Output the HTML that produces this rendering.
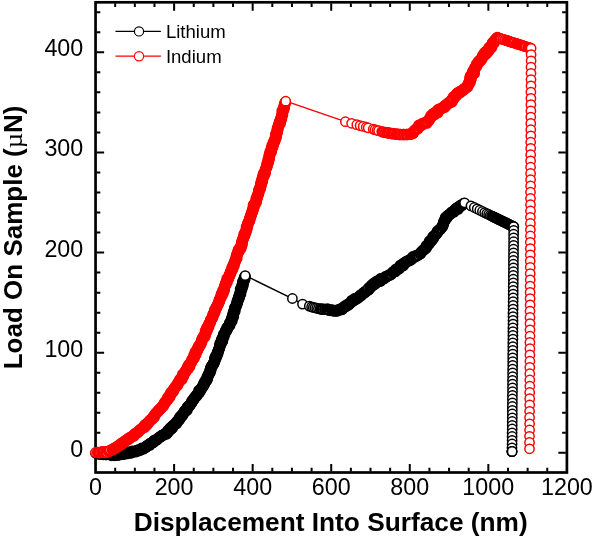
<!DOCTYPE html>
<html lang="en"><head><meta charset="utf-8"><title>Load vs displacement</title><style>html,body{margin:0;padding:0;background:#fff}svg{display:block;will-change:transform}</style></head>
<body>
<svg width="593" height="538" viewBox="0 0 593 538" role="img" aria-label="Load on sample versus displacement into surface for lithium and indium">
<rect width="593" height="538" fill="#fff"/>
<rect x="95.55" y="2.30" width="471.35" height="470.20" fill="none" stroke="#000" stroke-width="2.7"/>
<g stroke="#000" stroke-width="2.0" fill="none"><path d="M115.19 471.45v-3.70M115.19 3.35v3.70"/><path d="M134.83 471.45v-3.70M134.83 3.35v3.70"/><path d="M154.47 471.45v-3.70M154.47 3.35v3.70"/><path d="M174.11 471.45v-7.50M174.11 3.35v7.50"/><path d="M193.75 471.45v-3.70M193.75 3.35v3.70"/><path d="M213.39 471.45v-3.70M213.39 3.35v3.70"/><path d="M233.03 471.45v-3.70M233.03 3.35v3.70"/><path d="M252.67 471.45v-7.50M252.67 3.35v7.50"/><path d="M272.31 471.45v-3.70M272.31 3.35v3.70"/><path d="M291.95 471.45v-3.70M291.95 3.35v3.70"/><path d="M311.59 471.45v-3.70M311.59 3.35v3.70"/><path d="M331.22 471.45v-7.50M331.22 3.35v7.50"/><path d="M350.86 471.45v-3.70M350.86 3.35v3.70"/><path d="M370.50 471.45v-3.70M370.50 3.35v3.70"/><path d="M390.14 471.45v-3.70M390.14 3.35v3.70"/><path d="M409.78 471.45v-7.50M409.78 3.35v7.50"/><path d="M429.42 471.45v-3.70M429.42 3.35v3.70"/><path d="M449.06 471.45v-3.70M449.06 3.35v3.70"/><path d="M468.70 471.45v-3.70M468.70 3.35v3.70"/><path d="M488.34 471.45v-7.50M488.34 3.35v7.50"/><path d="M507.98 471.45v-3.70M507.98 3.35v3.70"/><path d="M527.62 471.45v-3.70M527.62 3.35v3.70"/><path d="M547.26 471.45v-3.70M547.26 3.35v3.70"/><path d="M96.60 452.85h7.50M565.85 452.85h-7.50"/><path d="M96.60 432.82h3.70M565.85 432.82h-3.70"/><path d="M96.60 412.80h3.70M565.85 412.80h-3.70"/><path d="M96.60 392.77h3.70M565.85 392.77h-3.70"/><path d="M96.60 372.74h3.70M565.85 372.74h-3.70"/><path d="M96.60 352.71h7.50M565.85 352.71h-7.50"/><path d="M96.60 332.69h3.70M565.85 332.69h-3.70"/><path d="M96.60 312.66h3.70M565.85 312.66h-3.70"/><path d="M96.60 292.63h3.70M565.85 292.63h-3.70"/><path d="M96.60 272.60h3.70M565.85 272.60h-3.70"/><path d="M96.60 252.57h7.50M565.85 252.57h-7.50"/><path d="M96.60 232.55h3.70M565.85 232.55h-3.70"/><path d="M96.60 212.52h3.70M565.85 212.52h-3.70"/><path d="M96.60 192.49h3.70M565.85 192.49h-3.70"/><path d="M96.60 172.46h3.70M565.85 172.46h-3.70"/><path d="M96.60 152.44h7.50M565.85 152.44h-7.50"/><path d="M96.60 132.41h3.70M565.85 132.41h-3.70"/><path d="M96.60 112.38h3.70M565.85 112.38h-3.70"/><path d="M96.60 92.35h3.70M565.85 92.35h-3.70"/><path d="M96.60 72.33h3.70M565.85 72.33h-3.70"/><path d="M96.60 52.30h7.50M565.85 52.30h-7.50"/><path d="M96.60 32.27h3.70M565.85 32.27h-3.70"/><path d="M96.60 12.24h3.70M565.85 12.24h-3.70"/></g>
<g fill="#fff" stroke="#000"><polyline fill="none" stroke-width="1.4" points="95.5,453.3 97.6,453.6 98.4,453.8 99.3,453.9 100.3,453.9 101.2,454.2 102.3,453.0 103.3,454.4 104.1,453.9 105.8,454.5 105.9,454.5 106.8,454.8 108.9,454.3 109.7,454.8 111.6,455.5 112.5,455.3 113.5,455.1 114.5,455.5 115.4,454.9 116.3,454.6 117.3,455.1 118.3,455.0 119.2,454.6 120.1,454.2 121.1,454.5 121.9,453.2 123.0,454.3 123.9,454.1 124.7,453.1 125.8,453.6 126.6,453.0 127.7,453.5 128.4,452.2 129.4,452.5 130.5,452.9 131.5,452.8 132.1,451.3 133.2,451.7 134.2,451.8 135.0,451.2 136.1,451.8 136.7,450.5 137.8,450.8 138.4,450.0 139.7,450.5 140.3,449.7 141.2,449.1 141.8,448.3 143.3,449.0 143.9,448.2 144.8,447.8 145.7,447.4 146.4,446.7 147.0,445.9 147.8,445.3 148.6,444.9 149.8,445.1 150.0,443.6 151.0,443.4 151.8,442.9 152.7,442.6 153.6,442.1 153.9,440.9 154.5,440.2 155.7,440.2 156.7,440.0 157.4,439.3 158.0,438.5 158.7,437.8 159.6,437.4 160.3,436.7 161.3,436.5 161.7,435.5 162.8,435.3 163.5,434.7 164.5,434.4 165.2,433.7 166.5,433.9 167.1,433.0 167.8,432.5 167.7,430.8 168.8,430.7 169.4,430.0 170.4,429.6 170.2,428.1 171.8,428.4 172.4,427.7 172.3,426.3 173.0,425.7 173.7,425.0 174.5,424.5 175.3,424.0 176.4,423.6 176.3,422.3 177.2,421.8 177.6,420.9 178.7,420.5 179.0,419.5 179.8,418.9 179.6,417.6 180.5,417.1 180.9,416.1 182.2,415.9 182.5,415.0 182.8,414.0 183.3,413.2 184.2,412.7 184.4,411.6 184.9,410.8 185.9,410.4 187.1,410.1 186.8,408.7 187.3,407.9 187.7,407.0 188.2,406.2 189.4,405.9 190.0,405.2 190.3,404.2 191.0,403.5 191.5,402.7 192.0,401.9 192.1,400.8 193.0,400.2 193.7,399.6 194.0,398.6 194.6,397.9 195.1,397.1 195.8,396.4 196.7,395.9 196.8,394.8 197.5,394.1 198.3,393.5 198.8,392.7 199.7,392.1 198.9,390.5 200.4,390.4 200.5,389.3 201.2,388.6 201.9,387.9 202.5,387.2 203.0,386.3 203.1,385.3 204.1,384.8 203.9,383.6 204.4,382.8 205.2,382.1 205.1,381.0 206.5,380.7 206.6,379.6 207.4,379.0 207.1,377.7 207.3,376.8 208.0,376.1 208.6,375.3 208.5,374.2 209.2,373.5 209.4,372.6 210.3,371.9 209.9,370.7 210.9,370.1 210.6,368.9 210.8,368.0 211.3,367.2 211.5,366.2 212.4,365.6 213.1,364.8 213.2,363.8 213.8,363.1 214.5,362.3 214.4,361.3 214.8,360.4 215.0,359.4 214.8,358.4 216.1,357.8 215.5,356.6 216.7,356.0 216.8,355.1 217.6,354.3 217.4,353.3 217.5,352.3 218.3,351.6 218.3,350.5 218.7,349.7 219.2,348.8 219.4,347.9 219.7,347.0 219.8,346.0 220.3,345.2 219.9,344.1 221.0,343.4 220.9,342.4 222.1,341.8 222.5,341.0 221.6,339.6 222.7,339.0 222.9,338.1 222.9,337.1 223.9,336.4 223.8,335.4 223.7,334.3 224.7,333.7 225.1,332.8 225.6,332.0 225.5,330.9 226.6,330.4 227.1,329.5 226.8,328.4 227.5,327.6 228.1,326.9 228.4,326.0 229.7,325.5 229.6,324.4 229.6,323.4 230.1,322.6 230.7,321.8 231.9,321.3 231.3,320.0 231.7,319.1 232.2,318.3 232.2,317.3 233.4,316.7 232.6,315.4 233.4,314.7 233.4,313.7 233.9,312.9 233.5,311.7 234.9,311.2 234.5,310.1 234.8,309.2 234.8,308.1 235.1,307.3 235.9,306.5 236.3,305.7 236.5,304.7 237.0,303.9 237.1,302.9 237.1,301.9 237.8,301.1 238.0,300.2 238.0,299.2 238.7,298.4 239.2,297.6 239.1,296.6 239.2,295.6 239.9,294.8 240.6,294.1 240.1,292.9 240.4,292.0 240.7,291.1 241.5,290.3 240.5,289.1 241.6,288.4 242.2,287.6 241.7,286.4 242.9,285.8 242.8,284.8 242.6,283.7 243.2,282.9 242.8,281.8 243.4,281.0 244.5,280.3 243.9,279.2 244.8,278.4 244.7,277.4 245.0,276.5 245.2,275.6 292.4,298.5 302.5,304.1 309.3,306.1 311.6,306.9 313.3,307.4 315.0,307.8 316.7,308.2 318.4,308.6 320.1,308.9 321.2,309.1 322.2,309.2 323.2,309.2 324.8,309.2 325.2,309.3 326.8,309.4 327.2,309.3 328.2,309.3 329.1,310.2 330.1,310.8 331.6,310.2 332.1,310.1 333.1,310.7 334.1,310.9 335.2,310.4 336.2,310.9 337.2,311.0 338.1,310.2 339.0,309.6 340.1,309.8 341.1,309.4 342.2,309.4 342.6,307.9 343.6,307.6 344.4,307.0 344.9,306.0 346.2,306.2 347.0,305.7 347.4,304.5 348.8,304.7 349.4,303.8 350.1,303.1 350.8,302.3 351.8,302.0 352.0,300.4 353.4,300.7 354.3,300.2 354.5,298.7 356.0,299.1 356.7,298.3 357.8,298.2 358.2,297.2 359.1,296.8 360.0,296.4 360.3,295.3 361.6,295.1 362.1,294.2 363.1,293.7 363.5,292.7 364.8,292.6 365.4,291.8 365.9,291.0 366.9,290.7 367.8,290.3 368.7,289.8 368.4,287.7 370.0,287.9 370.5,287.2 371.1,286.3 371.6,285.2 373.0,285.5 373.2,283.8 374.5,284.0 375.5,283.8 375.6,282.0 376.8,282.0 377.3,281.1 378.6,281.2 379.8,281.2 380.8,280.9 380.6,278.8 381.8,278.7 383.0,278.7 384.1,278.6 384.7,277.7 385.3,276.7 386.5,276.8 387.3,276.2 388.2,275.7 389.0,275.0 390.2,275.0 391.0,274.5 391.7,273.7 392.7,272.5 392.9,272.0 394.0,271.7 395.2,271.6 395.5,270.4 395.9,269.3 397.5,269.7 398.0,268.7 399.2,268.6 399.4,267.2 400.0,266.3 400.5,265.3 402.1,265.8 403.2,265.7 403.0,263.7 403.9,263.2 405.1,263.1 405.5,262.0 406.5,261.7 407.4,261.1 408.4,260.8 409.5,260.7 410.1,259.7 411.2,259.6 411.7,258.5 412.7,258.3 412.9,256.8 413.9,256.6 415.5,256.8 415.8,255.8 417.0,255.7 417.8,255.1 418.9,254.9 420.1,253.8 420.5,253.6 420.9,252.5 421.6,251.7 422.3,251.0 423.2,250.5 423.7,249.6 424.6,249.1 425.4,248.5 426.2,247.9 426.5,246.9 426.5,245.6 427.7,245.3 428.3,244.5 429.2,243.8 429.5,242.8 429.5,241.6 430.0,240.7 431.7,240.6 431.7,239.5 432.8,239.0 433.5,238.3 433.1,236.6 434.2,236.2 434.9,235.5 435.6,234.8 436.3,234.0 436.8,233.1 437.5,232.4 437.5,231.1 438.7,230.8 439.7,229.7 440.1,229.5 440.5,228.6 441.6,228.0 442.4,226.6 442.5,226.2 443.0,225.2 443.3,224.2 443.4,223.2 443.9,222.3 444.1,221.3 444.9,220.5 445.1,219.6 445.8,218.9 445.5,217.6 447.0,217.6 447.1,216.3 447.8,215.6 448.8,215.1 449.5,214.4 450.5,214.0 451.0,213.1 451.7,212.3 452.5,211.8 454.0,212.0 454.4,210.9 454.8,209.8 456.0,209.7 456.2,208.4 458.1,209.1 457.8,207.2 459.3,207.3 460.1,206.8 460.3,205.5 461.5,205.4 462.4,204.9 463.1,204.1 463.8,203.5 464.6,202.8 471.0,205.9 474.3,207.5 477.2,208.9 479.8,210.2 482.4,211.5 484.7,212.6 486.8,213.6 488.6,214.5 490.2,215.3 491.6,215.9 492.6,216.4 493.5,216.9 494.4,217.3 495.4,217.8 496.3,218.2 497.2,218.7 498.1,219.1 499.0,219.6 499.9,220.0 500.9,220.4 501.8,220.9 502.7,221.3 503.6,221.8 504.5,222.2 505.4,222.7 506.4,223.1 507.3,223.6 508.2,224.0 509.1,224.5 510.0,224.9 510.9,225.4 511.9,225.8 512.8,226.3 513.7,226.7 513.7,226.7 513.7,230.4 513.6,234.2 513.6,237.9 513.6,241.7 513.6,245.4 513.5,249.2 513.5,252.9 513.5,256.7 513.4,260.4 513.4,264.2 513.4,267.9 513.4,271.7 513.3,275.4 513.3,279.2 513.3,282.9 513.2,286.6 513.2,290.4 513.2,294.1 513.2,297.9 513.1,301.6 513.1,305.4 513.1,309.1 513.0,312.9 513.0,316.6 513.0,320.4 513.0,324.1 512.9,327.9 512.9,331.6 512.9,335.4 512.9,339.1 512.8,342.8 512.8,346.6 512.8,350.3 512.7,354.1 512.7,357.8 512.7,361.6 512.7,365.3 512.6,369.1 512.6,372.8 512.6,376.6 512.5,380.3 512.5,384.1 512.5,387.8 512.5,391.6 512.4,395.3 512.4,399.0 512.4,402.8 512.3,406.5 512.3,410.3 512.3,414.0 512.3,417.8 512.2,421.5 512.2,425.3 512.2,429.0 512.1,432.8 512.1,436.5 512.1,440.3 512.1,444.0 512.0,447.8 512.0,451.5 512.0,451.6 511.9,451.7 512.1,451.4"/><g stroke-width="1.5"><circle cx="95.5" cy="453.3" r="4.65"/><circle cx="97.6" cy="453.6" r="5.00" fill="#000"/><circle cx="98.4" cy="453.8" r="5.00" fill="#000"/><circle cx="99.3" cy="453.9" r="5.00" fill="#000"/><circle cx="100.3" cy="453.9" r="5.00" fill="#000"/><circle cx="101.2" cy="454.2" r="5.00" fill="#000"/><circle cx="102.3" cy="453.0" r="4.65"/><circle cx="103.3" cy="454.4" r="5.00" fill="#000"/><circle cx="104.1" cy="453.9" r="4.65"/><circle cx="105.8" cy="454.5" r="5.00" fill="#000"/><circle cx="105.9" cy="454.5" r="5.00" fill="#000"/><circle cx="106.8" cy="454.8" r="4.65"/><circle cx="108.9" cy="454.3" r="5.00" fill="#000"/><circle cx="109.7" cy="454.8" r="4.65"/><circle cx="111.6" cy="455.5" r="5.00" fill="#000"/><circle cx="112.5" cy="455.3" r="5.00" fill="#000"/><circle cx="113.5" cy="455.1" r="5.00" fill="#000"/><circle cx="114.5" cy="455.5" r="5.00" fill="#000"/><circle cx="115.4" cy="454.9" r="5.00" fill="#000"/><circle cx="116.3" cy="454.6" r="5.00" fill="#000"/><circle cx="117.3" cy="455.1" r="5.00" fill="#000"/><circle cx="118.3" cy="455.0" r="5.00" fill="#000"/><circle cx="119.2" cy="454.6" r="5.00" fill="#000"/><circle cx="120.1" cy="454.2" r="5.00" fill="#000"/><circle cx="121.1" cy="454.5" r="5.00" fill="#000"/><circle cx="121.9" cy="453.2" r="5.00" fill="#000"/><circle cx="123.0" cy="454.3" r="5.00" fill="#000"/><circle cx="123.9" cy="454.1" r="5.00" fill="#000"/><circle cx="124.7" cy="453.1" r="5.00" fill="#000"/><circle cx="125.8" cy="453.6" r="5.00" fill="#000"/><circle cx="126.6" cy="453.0" r="5.00" fill="#000"/><circle cx="127.7" cy="453.5" r="5.00" fill="#000"/><circle cx="128.4" cy="452.2" r="5.00" fill="#000"/><circle cx="129.4" cy="452.5" r="5.00" fill="#000"/><circle cx="130.5" cy="452.9" r="5.00" fill="#000"/><circle cx="131.5" cy="452.8" r="5.00" fill="#000"/><circle cx="132.1" cy="451.3" r="5.00" fill="#000"/><circle cx="133.2" cy="451.7" r="5.00" fill="#000"/><circle cx="134.2" cy="451.8" r="5.00" fill="#000"/><circle cx="135.0" cy="451.2" r="5.00" fill="#000"/><circle cx="136.1" cy="451.8" r="5.00" fill="#000"/><circle cx="136.7" cy="450.5" r="5.00" fill="#000"/><circle cx="137.8" cy="450.8" r="5.00" fill="#000"/><circle cx="138.4" cy="450.0" r="5.00" fill="#000"/><circle cx="139.7" cy="450.5" r="5.00" fill="#000"/><circle cx="140.3" cy="449.7" r="5.00" fill="#000"/><circle cx="141.2" cy="449.1" r="5.00" fill="#000"/><circle cx="141.8" cy="448.3" r="5.00" fill="#000"/><circle cx="143.3" cy="449.0" r="5.00" fill="#000"/><circle cx="143.9" cy="448.2" r="5.00" fill="#000"/><circle cx="144.8" cy="447.8" r="5.00" fill="#000"/><circle cx="145.7" cy="447.4" r="5.00" fill="#000"/><circle cx="146.4" cy="446.7" r="5.00" fill="#000"/><circle cx="147.0" cy="445.9" r="5.00" fill="#000"/><circle cx="147.8" cy="445.3" r="5.00" fill="#000"/><circle cx="148.6" cy="444.9" r="5.00" fill="#000"/><circle cx="149.8" cy="445.1" r="5.00" fill="#000"/><circle cx="150.0" cy="443.6" r="5.00" fill="#000"/><circle cx="151.0" cy="443.4" r="5.00" fill="#000"/><circle cx="151.8" cy="442.9" r="5.00" fill="#000"/><circle cx="152.7" cy="442.6" r="5.00" fill="#000"/><circle cx="153.6" cy="442.1" r="5.00" fill="#000"/><circle cx="153.9" cy="440.9" r="5.00" fill="#000"/><circle cx="154.5" cy="440.2" r="5.00" fill="#000"/><circle cx="155.7" cy="440.2" r="5.00" fill="#000"/><circle cx="156.7" cy="440.0" r="5.00" fill="#000"/><circle cx="157.4" cy="439.3" r="5.00" fill="#000"/><circle cx="158.0" cy="438.5" r="5.00" fill="#000"/><circle cx="158.7" cy="437.8" r="5.00" fill="#000"/><circle cx="159.6" cy="437.4" r="5.00" fill="#000"/><circle cx="160.3" cy="436.7" r="5.00" fill="#000"/><circle cx="161.3" cy="436.5" r="5.00" fill="#000"/><circle cx="161.7" cy="435.5" r="5.00" fill="#000"/><circle cx="162.8" cy="435.3" r="5.00" fill="#000"/><circle cx="163.5" cy="434.7" r="5.00" fill="#000"/><circle cx="164.5" cy="434.4" r="5.00" fill="#000"/><circle cx="165.2" cy="433.7" r="5.00" fill="#000"/><circle cx="166.5" cy="433.9" r="5.00" fill="#000"/><circle cx="167.1" cy="433.0" r="5.00" fill="#000"/><circle cx="167.8" cy="432.5" r="5.00" fill="#000"/><circle cx="167.7" cy="430.8" r="5.00" fill="#000"/><circle cx="168.8" cy="430.7" r="5.00" fill="#000"/><circle cx="169.4" cy="430.0" r="5.00" fill="#000"/><circle cx="170.4" cy="429.6" r="5.00" fill="#000"/><circle cx="170.2" cy="428.1" r="5.00" fill="#000"/><circle cx="171.8" cy="428.4" r="5.00" fill="#000"/><circle cx="172.4" cy="427.7" r="5.00" fill="#000"/><circle cx="172.3" cy="426.3" r="5.00" fill="#000"/><circle cx="173.0" cy="425.7" r="5.00" fill="#000"/><circle cx="173.7" cy="425.0" r="5.00" fill="#000"/><circle cx="174.5" cy="424.5" r="5.00" fill="#000"/><circle cx="175.3" cy="424.0" r="5.00" fill="#000"/><circle cx="176.4" cy="423.6" r="5.00" fill="#000"/><circle cx="176.3" cy="422.3" r="5.00" fill="#000"/><circle cx="177.2" cy="421.8" r="5.00" fill="#000"/><circle cx="177.6" cy="420.9" r="5.00" fill="#000"/><circle cx="178.7" cy="420.5" r="5.00" fill="#000"/><circle cx="179.0" cy="419.5" r="5.00" fill="#000"/><circle cx="179.8" cy="418.9" r="5.00" fill="#000"/><circle cx="179.6" cy="417.6" r="5.00" fill="#000"/><circle cx="180.5" cy="417.1" r="5.00" fill="#000"/><circle cx="180.9" cy="416.1" r="5.00" fill="#000"/><circle cx="182.2" cy="415.9" r="5.00" fill="#000"/><circle cx="182.5" cy="415.0" r="5.00" fill="#000"/><circle cx="182.8" cy="414.0" r="5.00" fill="#000"/><circle cx="183.3" cy="413.2" r="5.00" fill="#000"/><circle cx="184.2" cy="412.7" r="5.00" fill="#000"/><circle cx="184.4" cy="411.6" r="5.00" fill="#000"/><circle cx="184.9" cy="410.8" r="5.00" fill="#000"/><circle cx="185.9" cy="410.4" r="5.00" fill="#000"/><circle cx="187.1" cy="410.1" r="5.00" fill="#000"/><circle cx="186.8" cy="408.7" r="5.00" fill="#000"/><circle cx="187.3" cy="407.9" r="5.00" fill="#000"/><circle cx="187.7" cy="407.0" r="5.00" fill="#000"/><circle cx="188.2" cy="406.2" r="5.00" fill="#000"/><circle cx="189.4" cy="405.9" r="5.00" fill="#000"/><circle cx="190.0" cy="405.2" r="5.00" fill="#000"/><circle cx="190.3" cy="404.2" r="5.00" fill="#000"/><circle cx="191.0" cy="403.5" r="5.00" fill="#000"/><circle cx="191.5" cy="402.7" r="5.00" fill="#000"/><circle cx="192.0" cy="401.9" r="5.00" fill="#000"/><circle cx="192.1" cy="400.8" r="5.00" fill="#000"/><circle cx="193.0" cy="400.2" r="5.00" fill="#000"/><circle cx="193.7" cy="399.6" r="5.00" fill="#000"/><circle cx="194.0" cy="398.6" r="5.00" fill="#000"/><circle cx="194.6" cy="397.9" r="5.00" fill="#000"/><circle cx="195.1" cy="397.1" r="5.00" fill="#000"/><circle cx="195.8" cy="396.4" r="5.00" fill="#000"/><circle cx="196.7" cy="395.9" r="5.00" fill="#000"/><circle cx="196.8" cy="394.8" r="5.00" fill="#000"/><circle cx="197.5" cy="394.1" r="5.00" fill="#000"/><circle cx="198.3" cy="393.5" r="5.00" fill="#000"/><circle cx="198.8" cy="392.7" r="5.00" fill="#000"/><circle cx="199.7" cy="392.1" r="5.00" fill="#000"/><circle cx="198.9" cy="390.5" r="5.00" fill="#000"/><circle cx="200.4" cy="390.4" r="5.00" fill="#000"/><circle cx="200.5" cy="389.3" r="5.00" fill="#000"/><circle cx="201.2" cy="388.6" r="5.00" fill="#000"/><circle cx="201.9" cy="387.9" r="5.00" fill="#000"/><circle cx="202.5" cy="387.2" r="5.00" fill="#000"/><circle cx="203.0" cy="386.3" r="5.00" fill="#000"/><circle cx="203.1" cy="385.3" r="5.00" fill="#000"/><circle cx="204.1" cy="384.8" r="5.00" fill="#000"/><circle cx="203.9" cy="383.6" r="5.00" fill="#000"/><circle cx="204.4" cy="382.8" r="5.00" fill="#000"/><circle cx="205.2" cy="382.1" r="5.00" fill="#000"/><circle cx="205.1" cy="381.0" r="5.00" fill="#000"/><circle cx="206.5" cy="380.7" r="5.00" fill="#000"/><circle cx="206.6" cy="379.6" r="5.00" fill="#000"/><circle cx="207.4" cy="379.0" r="5.00" fill="#000"/><circle cx="207.1" cy="377.7" r="5.00" fill="#000"/><circle cx="207.3" cy="376.8" r="5.00" fill="#000"/><circle cx="208.0" cy="376.1" r="5.00" fill="#000"/><circle cx="208.6" cy="375.3" r="5.00" fill="#000"/><circle cx="208.5" cy="374.2" r="5.00" fill="#000"/><circle cx="209.2" cy="373.5" r="5.00" fill="#000"/><circle cx="209.4" cy="372.6" r="5.00" fill="#000"/><circle cx="210.3" cy="371.9" r="5.00" fill="#000"/><circle cx="209.9" cy="370.7" r="5.00" fill="#000"/><circle cx="210.9" cy="370.1" r="5.00" fill="#000"/><circle cx="210.6" cy="368.9" r="5.00" fill="#000"/><circle cx="210.8" cy="368.0" r="5.00" fill="#000"/><circle cx="211.3" cy="367.2" r="5.00" fill="#000"/><circle cx="211.5" cy="366.2" r="5.00" fill="#000"/><circle cx="212.4" cy="365.6" r="5.00" fill="#000"/><circle cx="213.1" cy="364.8" r="5.00" fill="#000"/><circle cx="213.2" cy="363.8" r="5.00" fill="#000"/><circle cx="213.8" cy="363.1" r="5.00" fill="#000"/><circle cx="214.5" cy="362.3" r="5.00" fill="#000"/><circle cx="214.4" cy="361.3" r="5.00" fill="#000"/><circle cx="214.8" cy="360.4" r="5.00" fill="#000"/><circle cx="215.0" cy="359.4" r="5.00" fill="#000"/><circle cx="214.8" cy="358.4" r="5.00" fill="#000"/><circle cx="216.1" cy="357.8" r="5.00" fill="#000"/><circle cx="215.5" cy="356.6" r="5.00" fill="#000"/><circle cx="216.7" cy="356.0" r="5.00" fill="#000"/><circle cx="216.8" cy="355.1" r="5.00" fill="#000"/><circle cx="217.6" cy="354.3" r="5.00" fill="#000"/><circle cx="217.4" cy="353.3" r="5.00" fill="#000"/><circle cx="217.5" cy="352.3" r="5.00" fill="#000"/><circle cx="218.3" cy="351.6" r="5.00" fill="#000"/><circle cx="218.3" cy="350.5" r="5.00" fill="#000"/><circle cx="218.7" cy="349.7" r="5.00" fill="#000"/><circle cx="219.2" cy="348.8" r="5.00" fill="#000"/><circle cx="219.4" cy="347.9" r="5.00" fill="#000"/><circle cx="219.7" cy="347.0" r="5.00" fill="#000"/><circle cx="219.8" cy="346.0" r="5.00" fill="#000"/><circle cx="220.3" cy="345.2" r="5.00" fill="#000"/><circle cx="219.9" cy="344.1" r="5.00" fill="#000"/><circle cx="221.0" cy="343.4" r="5.00" fill="#000"/><circle cx="220.9" cy="342.4" r="5.00" fill="#000"/><circle cx="222.1" cy="341.8" r="5.00" fill="#000"/><circle cx="222.5" cy="341.0" r="5.00" fill="#000"/><circle cx="221.6" cy="339.6" r="5.00" fill="#000"/><circle cx="222.7" cy="339.0" r="5.00" fill="#000"/><circle cx="222.9" cy="338.1" r="5.00" fill="#000"/><circle cx="222.9" cy="337.1" r="5.00" fill="#000"/><circle cx="223.9" cy="336.4" r="5.00" fill="#000"/><circle cx="223.8" cy="335.4" r="5.00" fill="#000"/><circle cx="223.7" cy="334.3" r="5.00" fill="#000"/><circle cx="224.7" cy="333.7" r="5.00" fill="#000"/><circle cx="225.1" cy="332.8" r="5.00" fill="#000"/><circle cx="225.6" cy="332.0" r="5.00" fill="#000"/><circle cx="225.5" cy="330.9" r="5.00" fill="#000"/><circle cx="226.6" cy="330.4" r="5.00" fill="#000"/><circle cx="227.1" cy="329.5" r="5.00" fill="#000"/><circle cx="226.8" cy="328.4" r="5.00" fill="#000"/><circle cx="227.5" cy="327.6" r="5.00" fill="#000"/><circle cx="228.1" cy="326.9" r="5.00" fill="#000"/><circle cx="228.4" cy="326.0" r="5.00" fill="#000"/><circle cx="229.7" cy="325.5" r="5.00" fill="#000"/><circle cx="229.6" cy="324.4" r="5.00" fill="#000"/><circle cx="229.6" cy="323.4" r="5.00" fill="#000"/><circle cx="230.1" cy="322.6" r="5.00" fill="#000"/><circle cx="230.7" cy="321.8" r="5.00" fill="#000"/><circle cx="231.9" cy="321.3" r="5.00" fill="#000"/><circle cx="231.3" cy="320.0" r="5.00" fill="#000"/><circle cx="231.7" cy="319.1" r="5.00" fill="#000"/><circle cx="232.2" cy="318.3" r="5.00" fill="#000"/><circle cx="232.2" cy="317.3" r="5.00" fill="#000"/><circle cx="233.4" cy="316.7" r="5.00" fill="#000"/><circle cx="232.6" cy="315.4" r="5.00" fill="#000"/><circle cx="233.4" cy="314.7" r="5.00" fill="#000"/><circle cx="233.4" cy="313.7" r="5.00" fill="#000"/><circle cx="233.9" cy="312.9" r="5.00" fill="#000"/><circle cx="233.5" cy="311.7" r="5.00" fill="#000"/><circle cx="234.9" cy="311.2" r="5.00" fill="#000"/><circle cx="234.5" cy="310.1" r="5.00" fill="#000"/><circle cx="234.8" cy="309.2" r="5.00" fill="#000"/><circle cx="234.8" cy="308.1" r="5.00" fill="#000"/><circle cx="235.1" cy="307.3" r="5.00" fill="#000"/><circle cx="235.9" cy="306.5" r="5.00" fill="#000"/><circle cx="236.3" cy="305.7" r="5.00" fill="#000"/><circle cx="236.5" cy="304.7" r="5.00" fill="#000"/><circle cx="237.0" cy="303.9" r="5.00" fill="#000"/><circle cx="237.1" cy="302.9" r="5.00" fill="#000"/><circle cx="237.1" cy="301.9" r="5.00" fill="#000"/><circle cx="237.8" cy="301.1" r="5.00" fill="#000"/><circle cx="238.0" cy="300.2" r="5.00" fill="#000"/><circle cx="238.0" cy="299.2" r="5.00" fill="#000"/><circle cx="238.7" cy="298.4" r="5.00" fill="#000"/><circle cx="239.2" cy="297.6" r="5.00" fill="#000"/><circle cx="239.1" cy="296.6" r="5.00" fill="#000"/><circle cx="239.2" cy="295.6" r="5.00" fill="#000"/><circle cx="239.9" cy="294.8" r="5.00" fill="#000"/><circle cx="240.6" cy="294.1" r="5.00" fill="#000"/><circle cx="240.1" cy="292.9" r="5.00" fill="#000"/><circle cx="240.4" cy="292.0" r="5.00" fill="#000"/><circle cx="240.7" cy="291.1" r="5.00" fill="#000"/><circle cx="241.5" cy="290.3" r="5.00" fill="#000"/><circle cx="240.5" cy="289.1" r="5.00" fill="#000"/><circle cx="241.6" cy="288.4" r="5.00" fill="#000"/><circle cx="242.2" cy="287.6" r="5.00" fill="#000"/><circle cx="241.7" cy="286.4" r="5.00" fill="#000"/><circle cx="242.9" cy="285.8" r="5.00" fill="#000"/><circle cx="242.8" cy="284.8" r="5.00" fill="#000"/><circle cx="242.6" cy="283.7" r="5.00" fill="#000"/><circle cx="243.2" cy="282.9" r="5.00" fill="#000"/><circle cx="242.8" cy="281.8" r="5.00" fill="#000"/><circle cx="243.4" cy="281.0" r="5.00" fill="#000"/><circle cx="244.5" cy="280.3" r="5.00" fill="#000"/><circle cx="243.9" cy="279.2" r="5.00" fill="#000"/><circle cx="244.8" cy="278.4" r="5.00" fill="#000"/><circle cx="244.7" cy="277.4" r="5.00" fill="#000"/><circle cx="245.0" cy="276.5" r="5.00" fill="#000"/><circle cx="245.2" cy="275.6" r="4.65"/><circle cx="292.4" cy="298.5" r="4.65"/><circle cx="302.5" cy="304.1" r="4.65"/><circle cx="309.3" cy="306.1" r="4.65"/><circle cx="311.6" cy="306.9" r="4.65"/><circle cx="313.3" cy="307.4" r="4.65"/><circle cx="315.0" cy="307.8" r="4.65"/><circle cx="316.7" cy="308.2" r="4.65"/><circle cx="318.4" cy="308.6" r="4.65"/><circle cx="320.1" cy="308.9" r="4.65"/><circle cx="321.2" cy="309.1" r="5.00" fill="#000"/><circle cx="322.2" cy="309.2" r="5.00" fill="#000"/><circle cx="323.2" cy="309.2" r="4.65"/><circle cx="324.8" cy="309.2" r="5.00" fill="#000"/><circle cx="325.2" cy="309.3" r="4.65"/><circle cx="326.8" cy="309.4" r="5.00" fill="#000"/><circle cx="327.2" cy="309.3" r="5.00" fill="#000"/><circle cx="328.2" cy="309.3" r="5.00" fill="#000"/><circle cx="329.1" cy="310.2" r="5.00" fill="#000"/><circle cx="330.1" cy="310.8" r="4.65"/><circle cx="331.6" cy="310.2" r="5.00" fill="#000"/><circle cx="332.1" cy="310.1" r="5.00" fill="#000"/><circle cx="333.1" cy="310.7" r="5.00" fill="#000"/><circle cx="334.1" cy="310.9" r="5.00" fill="#000"/><circle cx="335.2" cy="310.4" r="5.00" fill="#000"/><circle cx="336.2" cy="310.9" r="5.00" fill="#000"/><circle cx="337.2" cy="311.0" r="5.00" fill="#000"/><circle cx="338.1" cy="310.2" r="5.00" fill="#000"/><circle cx="339.0" cy="309.6" r="5.00" fill="#000"/><circle cx="340.1" cy="309.8" r="5.00" fill="#000"/><circle cx="341.1" cy="309.4" r="5.00" fill="#000"/><circle cx="342.2" cy="309.4" r="5.00" fill="#000"/><circle cx="342.6" cy="307.9" r="5.00" fill="#000"/><circle cx="343.6" cy="307.6" r="5.00" fill="#000"/><circle cx="344.4" cy="307.0" r="5.00" fill="#000"/><circle cx="344.9" cy="306.0" r="5.00" fill="#000"/><circle cx="346.2" cy="306.2" r="5.00" fill="#000"/><circle cx="347.0" cy="305.7" r="5.00" fill="#000"/><circle cx="347.4" cy="304.5" r="5.00" fill="#000"/><circle cx="348.8" cy="304.7" r="5.00" fill="#000"/><circle cx="349.4" cy="303.8" r="5.00" fill="#000"/><circle cx="350.1" cy="303.1" r="5.00" fill="#000"/><circle cx="350.8" cy="302.3" r="5.00" fill="#000"/><circle cx="351.8" cy="302.0" r="5.00" fill="#000"/><circle cx="352.0" cy="300.4" r="5.00" fill="#000"/><circle cx="353.4" cy="300.7" r="5.00" fill="#000"/><circle cx="354.3" cy="300.2" r="5.00" fill="#000"/><circle cx="354.5" cy="298.7" r="5.00" fill="#000"/><circle cx="356.0" cy="299.1" r="5.00" fill="#000"/><circle cx="356.7" cy="298.3" r="5.00" fill="#000"/><circle cx="357.8" cy="298.2" r="5.00" fill="#000"/><circle cx="358.2" cy="297.2" r="5.00" fill="#000"/><circle cx="359.1" cy="296.8" r="5.00" fill="#000"/><circle cx="360.0" cy="296.4" r="5.00" fill="#000"/><circle cx="360.3" cy="295.3" r="5.00" fill="#000"/><circle cx="361.6" cy="295.1" r="5.00" fill="#000"/><circle cx="362.1" cy="294.2" r="5.00" fill="#000"/><circle cx="363.1" cy="293.7" r="5.00" fill="#000"/><circle cx="363.5" cy="292.7" r="5.00" fill="#000"/><circle cx="364.8" cy="292.6" r="5.00" fill="#000"/><circle cx="365.4" cy="291.8" r="5.00" fill="#000"/><circle cx="365.9" cy="291.0" r="5.00" fill="#000"/><circle cx="366.9" cy="290.7" r="5.00" fill="#000"/><circle cx="367.8" cy="290.3" r="5.00" fill="#000"/><circle cx="368.7" cy="289.8" r="5.00" fill="#000"/><circle cx="368.4" cy="287.7" r="4.65"/><circle cx="370.0" cy="287.9" r="5.00" fill="#000"/><circle cx="370.5" cy="287.2" r="5.00" fill="#000"/><circle cx="371.1" cy="286.3" r="5.00" fill="#000"/><circle cx="371.6" cy="285.2" r="5.00" fill="#000"/><circle cx="373.0" cy="285.5" r="5.00" fill="#000"/><circle cx="373.2" cy="283.8" r="5.00" fill="#000"/><circle cx="374.5" cy="284.0" r="5.00" fill="#000"/><circle cx="375.5" cy="283.8" r="5.00" fill="#000"/><circle cx="375.6" cy="282.0" r="5.00" fill="#000"/><circle cx="376.8" cy="282.0" r="5.00" fill="#000"/><circle cx="377.3" cy="281.1" r="5.00" fill="#000"/><circle cx="378.6" cy="281.2" r="5.00" fill="#000"/><circle cx="379.8" cy="281.2" r="5.00" fill="#000"/><circle cx="380.8" cy="280.9" r="5.00" fill="#000"/><circle cx="380.6" cy="278.8" r="5.00" fill="#000"/><circle cx="381.8" cy="278.7" r="5.00" fill="#000"/><circle cx="383.0" cy="278.7" r="5.00" fill="#000"/><circle cx="384.1" cy="278.6" r="5.00" fill="#000"/><circle cx="384.7" cy="277.7" r="5.00" fill="#000"/><circle cx="385.3" cy="276.7" r="5.00" fill="#000"/><circle cx="386.5" cy="276.8" r="5.00" fill="#000"/><circle cx="387.3" cy="276.2" r="5.00" fill="#000"/><circle cx="388.2" cy="275.7" r="5.00" fill="#000"/><circle cx="389.0" cy="275.0" r="5.00" fill="#000"/><circle cx="390.2" cy="275.0" r="5.00" fill="#000"/><circle cx="391.0" cy="274.5" r="5.00" fill="#000"/><circle cx="391.7" cy="273.7" r="4.65"/><circle cx="392.7" cy="272.5" r="5.00" fill="#000"/><circle cx="392.9" cy="272.0" r="5.00" fill="#000"/><circle cx="394.0" cy="271.7" r="5.00" fill="#000"/><circle cx="395.2" cy="271.6" r="5.00" fill="#000"/><circle cx="395.5" cy="270.4" r="5.00" fill="#000"/><circle cx="395.9" cy="269.3" r="5.00" fill="#000"/><circle cx="397.5" cy="269.7" r="5.00" fill="#000"/><circle cx="398.0" cy="268.7" r="5.00" fill="#000"/><circle cx="399.2" cy="268.6" r="5.00" fill="#000"/><circle cx="399.4" cy="267.2" r="5.00" fill="#000"/><circle cx="400.0" cy="266.3" r="5.00" fill="#000"/><circle cx="400.5" cy="265.3" r="5.00" fill="#000"/><circle cx="402.1" cy="265.8" r="5.00" fill="#000"/><circle cx="403.2" cy="265.7" r="5.00" fill="#000"/><circle cx="403.0" cy="263.7" r="5.00" fill="#000"/><circle cx="403.9" cy="263.2" r="5.00" fill="#000"/><circle cx="405.1" cy="263.1" r="5.00" fill="#000"/><circle cx="405.5" cy="262.0" r="5.00" fill="#000"/><circle cx="406.5" cy="261.7" r="5.00" fill="#000"/><circle cx="407.4" cy="261.1" r="5.00" fill="#000"/><circle cx="408.4" cy="260.8" r="5.00" fill="#000"/><circle cx="409.5" cy="260.7" r="5.00" fill="#000"/><circle cx="410.1" cy="259.7" r="5.00" fill="#000"/><circle cx="411.2" cy="259.6" r="5.00" fill="#000"/><circle cx="411.7" cy="258.5" r="5.00" fill="#000"/><circle cx="412.7" cy="258.3" r="5.00" fill="#000"/><circle cx="412.9" cy="256.8" r="5.00" fill="#000"/><circle cx="413.9" cy="256.6" r="4.65"/><circle cx="415.5" cy="256.8" r="5.00" fill="#000"/><circle cx="415.8" cy="255.8" r="5.00" fill="#000"/><circle cx="417.0" cy="255.7" r="5.00" fill="#000"/><circle cx="417.8" cy="255.1" r="5.00" fill="#000"/><circle cx="418.9" cy="254.9" r="4.65"/><circle cx="420.1" cy="253.8" r="5.00" fill="#000"/><circle cx="420.5" cy="253.6" r="5.00" fill="#000"/><circle cx="420.9" cy="252.5" r="5.00" fill="#000"/><circle cx="421.6" cy="251.7" r="5.00" fill="#000"/><circle cx="422.3" cy="251.0" r="5.00" fill="#000"/><circle cx="423.2" cy="250.5" r="5.00" fill="#000"/><circle cx="423.7" cy="249.6" r="5.00" fill="#000"/><circle cx="424.6" cy="249.1" r="5.00" fill="#000"/><circle cx="425.4" cy="248.5" r="5.00" fill="#000"/><circle cx="426.2" cy="247.9" r="5.00" fill="#000"/><circle cx="426.5" cy="246.9" r="5.00" fill="#000"/><circle cx="426.5" cy="245.6" r="5.00" fill="#000"/><circle cx="427.7" cy="245.3" r="5.00" fill="#000"/><circle cx="428.3" cy="244.5" r="5.00" fill="#000"/><circle cx="429.2" cy="243.8" r="5.00" fill="#000"/><circle cx="429.5" cy="242.8" r="5.00" fill="#000"/><circle cx="429.5" cy="241.6" r="5.00" fill="#000"/><circle cx="430.0" cy="240.7" r="5.00" fill="#000"/><circle cx="431.7" cy="240.6" r="5.00" fill="#000"/><circle cx="431.7" cy="239.5" r="5.00" fill="#000"/><circle cx="432.8" cy="239.0" r="5.00" fill="#000"/><circle cx="433.5" cy="238.3" r="5.00" fill="#000"/><circle cx="433.1" cy="236.6" r="5.00" fill="#000"/><circle cx="434.2" cy="236.2" r="5.00" fill="#000"/><circle cx="434.9" cy="235.5" r="5.00" fill="#000"/><circle cx="435.6" cy="234.8" r="5.00" fill="#000"/><circle cx="436.3" cy="234.0" r="5.00" fill="#000"/><circle cx="436.8" cy="233.1" r="5.00" fill="#000"/><circle cx="437.5" cy="232.4" r="5.00" fill="#000"/><circle cx="437.5" cy="231.1" r="5.00" fill="#000"/><circle cx="438.7" cy="230.8" r="4.65"/><circle cx="439.7" cy="229.7" r="5.00" fill="#000"/><circle cx="440.1" cy="229.5" r="5.00" fill="#000"/><circle cx="440.5" cy="228.6" r="5.00" fill="#000"/><circle cx="441.6" cy="228.0" r="4.65"/><circle cx="442.4" cy="226.6" r="5.00" fill="#000"/><circle cx="442.5" cy="226.2" r="5.00" fill="#000"/><circle cx="443.0" cy="225.2" r="5.00" fill="#000"/><circle cx="443.3" cy="224.2" r="5.00" fill="#000"/><circle cx="443.4" cy="223.2" r="5.00" fill="#000"/><circle cx="443.9" cy="222.3" r="5.00" fill="#000"/><circle cx="444.1" cy="221.3" r="5.00" fill="#000"/><circle cx="444.9" cy="220.5" r="5.00" fill="#000"/><circle cx="445.1" cy="219.6" r="5.00" fill="#000"/><circle cx="445.8" cy="218.9" r="5.00" fill="#000"/><circle cx="445.5" cy="217.6" r="5.00" fill="#000"/><circle cx="447.0" cy="217.6" r="5.00" fill="#000"/><circle cx="447.1" cy="216.3" r="5.00" fill="#000"/><circle cx="447.8" cy="215.6" r="5.00" fill="#000"/><circle cx="448.8" cy="215.1" r="5.00" fill="#000"/><circle cx="449.5" cy="214.4" r="5.00" fill="#000"/><circle cx="450.5" cy="214.0" r="5.00" fill="#000"/><circle cx="451.0" cy="213.1" r="5.00" fill="#000"/><circle cx="451.7" cy="212.3" r="5.00" fill="#000"/><circle cx="452.5" cy="211.8" r="5.00" fill="#000"/><circle cx="454.0" cy="212.0" r="5.00" fill="#000"/><circle cx="454.4" cy="210.9" r="5.00" fill="#000"/><circle cx="454.8" cy="209.8" r="5.00" fill="#000"/><circle cx="456.0" cy="209.7" r="5.00" fill="#000"/><circle cx="456.2" cy="208.4" r="5.00" fill="#000"/><circle cx="458.1" cy="209.1" r="5.00" fill="#000"/><circle cx="457.8" cy="207.2" r="5.00" fill="#000"/><circle cx="459.3" cy="207.3" r="5.00" fill="#000"/><circle cx="460.1" cy="206.8" r="5.00" fill="#000"/><circle cx="460.3" cy="205.5" r="5.00" fill="#000"/><circle cx="461.5" cy="205.4" r="5.00" fill="#000"/><circle cx="462.4" cy="204.9" r="5.00" fill="#000"/><circle cx="463.1" cy="204.1" r="5.00" fill="#000"/><circle cx="463.8" cy="203.5" r="5.00" fill="#000"/><circle cx="464.6" cy="202.8" r="4.65"/><circle cx="471.0" cy="205.9" r="4.65"/><circle cx="474.3" cy="207.5" r="4.65"/><circle cx="477.2" cy="208.9" r="4.65"/><circle cx="479.8" cy="210.2" r="4.65"/><circle cx="482.4" cy="211.5" r="4.65"/><circle cx="484.7" cy="212.6" r="4.65"/><circle cx="486.8" cy="213.6" r="4.65"/><circle cx="488.6" cy="214.5" r="4.65"/><circle cx="490.2" cy="215.3" r="4.65"/><circle cx="491.6" cy="215.9" r="4.65"/><circle cx="492.6" cy="216.4" r="4.75" fill="#000"/><circle cx="493.5" cy="216.9" r="4.75" fill="#000"/><circle cx="494.4" cy="217.3" r="4.75" fill="#000"/><circle cx="495.4" cy="217.8" r="4.75" fill="#000"/><circle cx="496.3" cy="218.2" r="4.75" fill="#000"/><circle cx="497.2" cy="218.7" r="4.75" fill="#000"/><circle cx="498.1" cy="219.1" r="4.75" fill="#000"/><circle cx="499.0" cy="219.6" r="4.75" fill="#000"/><circle cx="499.9" cy="220.0" r="4.75" fill="#000"/><circle cx="500.9" cy="220.4" r="4.75" fill="#000"/><circle cx="501.8" cy="220.9" r="4.75" fill="#000"/><circle cx="502.7" cy="221.3" r="4.75" fill="#000"/><circle cx="503.6" cy="221.8" r="4.75" fill="#000"/><circle cx="504.5" cy="222.2" r="4.75" fill="#000"/><circle cx="505.4" cy="222.7" r="4.75" fill="#000"/><circle cx="506.4" cy="223.1" r="4.75" fill="#000"/><circle cx="507.3" cy="223.6" r="4.75" fill="#000"/><circle cx="508.2" cy="224.0" r="4.75" fill="#000"/><circle cx="509.1" cy="224.5" r="4.75" fill="#000"/><circle cx="510.0" cy="224.9" r="4.75" fill="#000"/><circle cx="510.9" cy="225.4" r="4.75" fill="#000"/><circle cx="511.9" cy="225.8" r="4.75" fill="#000"/><circle cx="512.8" cy="226.3" r="4.75" fill="#000"/><circle cx="513.7" cy="226.7" r="4.75" fill="#000"/><circle cx="513.7" cy="226.7" r="4.65"/><circle cx="513.7" cy="230.4" r="4.65"/><circle cx="513.6" cy="234.2" r="4.65"/><circle cx="513.6" cy="237.9" r="4.65"/><circle cx="513.6" cy="241.7" r="4.65"/><circle cx="513.6" cy="245.4" r="4.65"/><circle cx="513.5" cy="249.2" r="4.65"/><circle cx="513.5" cy="252.9" r="4.65"/><circle cx="513.5" cy="256.7" r="4.65"/><circle cx="513.4" cy="260.4" r="4.65"/><circle cx="513.4" cy="264.2" r="4.65"/><circle cx="513.4" cy="267.9" r="4.65"/><circle cx="513.4" cy="271.7" r="4.65"/><circle cx="513.3" cy="275.4" r="4.65"/><circle cx="513.3" cy="279.2" r="4.65"/><circle cx="513.3" cy="282.9" r="4.65"/><circle cx="513.2" cy="286.6" r="4.65"/><circle cx="513.2" cy="290.4" r="4.65"/><circle cx="513.2" cy="294.1" r="4.65"/><circle cx="513.2" cy="297.9" r="4.65"/><circle cx="513.1" cy="301.6" r="4.65"/><circle cx="513.1" cy="305.4" r="4.65"/><circle cx="513.1" cy="309.1" r="4.65"/><circle cx="513.0" cy="312.9" r="4.65"/><circle cx="513.0" cy="316.6" r="4.65"/><circle cx="513.0" cy="320.4" r="4.65"/><circle cx="513.0" cy="324.1" r="4.65"/><circle cx="512.9" cy="327.9" r="4.65"/><circle cx="512.9" cy="331.6" r="4.65"/><circle cx="512.9" cy="335.4" r="4.65"/><circle cx="512.9" cy="339.1" r="4.65"/><circle cx="512.8" cy="342.8" r="4.65"/><circle cx="512.8" cy="346.6" r="4.65"/><circle cx="512.8" cy="350.3" r="4.65"/><circle cx="512.7" cy="354.1" r="4.65"/><circle cx="512.7" cy="357.8" r="4.65"/><circle cx="512.7" cy="361.6" r="4.65"/><circle cx="512.7" cy="365.3" r="4.65"/><circle cx="512.6" cy="369.1" r="4.65"/><circle cx="512.6" cy="372.8" r="4.65"/><circle cx="512.6" cy="376.6" r="4.65"/><circle cx="512.5" cy="380.3" r="4.65"/><circle cx="512.5" cy="384.1" r="4.65"/><circle cx="512.5" cy="387.8" r="4.65"/><circle cx="512.5" cy="391.6" r="4.65"/><circle cx="512.4" cy="395.3" r="4.65"/><circle cx="512.4" cy="399.0" r="4.65"/><circle cx="512.4" cy="402.8" r="4.65"/><circle cx="512.3" cy="406.5" r="4.65"/><circle cx="512.3" cy="410.3" r="4.65"/><circle cx="512.3" cy="414.0" r="4.65"/><circle cx="512.3" cy="417.8" r="4.65"/><circle cx="512.2" cy="421.5" r="4.65"/><circle cx="512.2" cy="425.3" r="4.65"/><circle cx="512.2" cy="429.0" r="4.65"/><circle cx="512.1" cy="432.8" r="4.65"/><circle cx="512.1" cy="436.5" r="4.65"/><circle cx="512.1" cy="440.3" r="4.65"/><circle cx="512.1" cy="444.0" r="4.65"/><circle cx="512.0" cy="447.8" r="4.65"/><circle cx="512.0" cy="451.5" r="4.65"/><circle cx="512.0" cy="451.6" r="4.65"/><circle cx="511.9" cy="451.7" r="4.65"/><circle cx="512.1" cy="451.4" r="4.65"/></g></g>
<g fill="#fff" stroke="#f00"><polyline fill="none" stroke-width="1.4" points="95.5,452.5 97.6,452.5 98.4,452.5 99.4,452.7 100.3,452.1 102.0,452.1 102.2,451.9 103.2,452.1 104.1,451.8 105.8,452.2 106.0,452.1 107.2,452.5 108.7,451.3 108.8,451.2 109.7,450.9 110.4,450.0 112.5,449.9 113.0,448.9 114.0,448.7 114.8,448.1 115.7,447.9 116.4,447.1 117.2,446.7 118.1,446.3 118.9,445.8 119.5,444.9 120.6,445.0 121.0,443.7 121.8,443.2 122.5,442.7 123.8,442.9 124.3,441.9 124.9,441.1 125.7,440.5 126.8,440.5 127.3,439.5 128.0,438.8 129.2,438.9 129.6,437.8 130.5,437.5 131.4,437.1 132.1,436.4 132.9,436.0 134.0,435.9 134.4,434.7 134.9,433.9 135.6,433.2 136.7,433.1 137.4,432.5 138.3,432.0 138.8,431.2 139.5,430.5 140.1,429.8 140.9,429.2 141.8,428.8 142.3,428.0 143.2,427.5 144.4,427.4 144.7,426.3 144.8,425.1 146.4,425.4 146.8,424.4 147.1,423.3 148.3,423.2 148.7,422.3 149.2,421.4 149.8,420.7 150.4,419.9 151.3,419.5 152.2,419.1 152.4,418.0 153.3,417.5 154.3,417.1 154.0,415.6 155.0,415.2 155.4,414.3 155.8,413.4 156.4,412.7 157.3,412.2 158.0,411.5 158.3,410.5 159.1,409.9 159.9,409.4 160.4,408.6 161.2,408.0 161.7,407.2 162.3,406.4 163.4,406.0 163.6,405.0 164.0,404.1 164.7,403.5 164.8,402.3 165.5,401.7 166.4,401.1 166.9,400.3 167.7,399.7 167.7,398.6 167.8,397.5 169.4,397.5 169.7,396.5 169.5,395.2 170.8,395.0 170.9,393.9 170.9,392.6 171.8,392.2 172.3,391.4 173.6,391.1 173.3,389.7 174.1,389.1 174.6,388.3 175.1,387.5 175.5,386.6 176.4,386.1 177.3,385.5 177.7,384.6 177.7,383.5 178.1,382.7 179.1,382.2 179.3,381.2 179.9,380.4 180.0,379.4 181.8,379.4 181.9,378.3 181.8,377.1 182.9,376.7 183.5,375.9 182.7,374.4 183.8,373.9 184.3,373.1 185.2,372.5 185.4,371.5 185.8,370.7 186.3,369.9 187.4,369.5 188.0,368.7 187.6,367.3 188.0,366.4 189.7,366.4 188.9,364.8 189.6,364.1 190.3,363.4 190.9,362.7 191.6,362.0 191.8,361.0 191.9,359.9 192.8,359.4 193.2,358.5 194.2,357.9 194.0,356.7 193.9,355.6 194.5,354.9 195.8,354.5 195.5,353.2 195.3,352.1 196.3,351.5 196.9,350.8 197.7,350.1 197.3,348.8 198.3,348.3 198.8,347.4 198.6,346.3 199.2,345.6 200.4,345.0 200.8,344.2 200.9,343.2 201.1,342.2 201.8,341.5 201.8,340.4 202.2,339.6 202.3,338.6 203.1,337.9 203.4,337.0 204.9,336.6 204.2,335.3 205.2,334.7 205.6,333.8 205.5,332.7 206.4,332.1 205.5,330.7 206.8,330.2 207.5,329.4 206.7,328.0 207.5,327.4 208.7,326.9 208.5,325.8 208.6,324.7 209.2,324.0 209.5,323.1 210.3,322.4 210.5,321.5 210.6,320.5 210.9,319.5 211.5,318.8 212.4,318.1 212.4,317.1 213.0,316.3 213.1,315.3 213.1,314.3 213.7,313.5 214.6,312.8 214.7,311.9 214.7,310.8 214.8,309.9 215.8,309.2 216.0,308.3 216.4,307.4 216.7,306.5 217.3,305.7 217.6,304.8 218.2,304.1 218.6,303.2 219.1,302.3 219.2,301.4 219.2,300.3 219.7,299.5 220.3,298.7 220.4,297.7 221.1,297.0 221.7,296.2 221.4,295.1 221.4,294.1 222.9,293.6 222.8,292.6 223.4,291.8 222.9,290.6 224.4,290.1 224.3,289.1 224.3,288.0 224.5,287.1 225.0,286.3 225.2,285.3 225.5,284.4 225.6,283.4 226.8,282.9 226.7,281.8 227.1,281.0 227.5,280.1 227.0,278.9 228.5,278.5 228.6,277.5 229.0,276.6 229.5,275.8 229.4,274.7 230.5,274.1 230.3,273.0 230.6,272.1 230.9,271.2 231.7,270.5 232.3,269.7 232.1,268.6 232.1,267.6 233.4,267.1 233.0,265.9 234.1,265.4 234.0,264.3 234.1,263.3 234.4,262.4 235.1,261.6 235.5,260.8 235.4,259.7 236.2,259.0 236.9,258.3 236.4,257.0 236.4,256.0 236.8,255.2 237.0,254.2 237.6,253.5 238.0,252.6 238.1,251.6 239.2,251.0 238.4,249.7 239.2,249.0 240.8,248.5 240.7,247.5 240.8,246.5 241.1,245.6 242.0,244.9 241.8,243.8 241.9,242.9 241.8,241.8 242.5,241.1 242.6,240.1 242.9,239.2 243.2,238.3 243.7,237.5 243.9,236.5 244.6,235.8 244.0,234.6 244.7,233.8 245.7,233.1 245.3,232.0 246.0,231.2 246.3,230.3 246.7,229.4 246.8,228.5 246.4,227.3 247.1,226.6 247.5,225.7 247.4,224.6 248.1,223.9 248.2,222.9 248.4,222.0 249.4,221.3 249.6,220.4 249.6,219.4 249.8,218.4 250.2,217.6 250.6,216.7 250.8,215.8 251.2,214.9 251.3,213.9 251.9,213.1 252.2,212.2 252.5,211.3 252.4,210.3 252.8,209.4 253.5,208.7 253.6,207.7 254.0,206.8 253.4,205.6 253.6,204.7 255.1,204.2 255.4,203.3 256.1,202.5 256.1,201.5 256.2,200.5 256.4,199.6 256.2,198.5 257.3,197.9 257.0,196.8 257.7,196.0 257.9,195.1 258.2,194.2 258.7,193.3 258.4,192.3 258.7,191.4 258.8,190.4 259.3,189.5 260.3,188.9 259.8,187.7 260.6,187.0 260.7,186.0 261.0,185.1 261.3,184.2 260.8,183.1 261.6,182.3 262.4,181.5 261.8,180.4 262.3,179.5 262.3,178.6 263.0,177.8 262.7,176.7 264.0,176.1 263.6,175.0 263.4,173.9 265.0,173.4 265.0,172.4 265.1,171.4 265.4,170.5 265.4,169.5 265.7,168.7 266.4,167.9 266.8,167.0 267.0,166.1 267.0,165.1 267.1,164.1 267.4,163.2 268.2,162.4 268.5,161.6 268.1,160.4 268.3,159.5 269.2,158.8 269.3,157.8 269.5,156.9 269.0,155.7 269.7,154.9 269.9,154.0 270.4,153.2 270.0,152.1 271.4,151.5 271.3,150.5 271.6,149.6 271.3,148.5 272.0,147.7 272.8,147.0 272.0,145.7 273.0,145.0 273.4,144.2 273.2,143.1 274.1,142.4 274.0,141.4 274.9,140.6 274.9,139.6 275.1,138.7 276.0,138.0 275.8,136.9 276.3,136.1 275.6,134.9 276.0,134.0 276.9,133.3 277.1,132.4 277.0,131.4 277.6,130.5 277.2,129.4 277.9,128.6 277.7,127.6 278.5,126.8 278.5,125.8 278.7,124.9 279.3,124.1 280.2,123.4 279.4,122.2 279.9,121.3 280.8,120.6 280.5,119.5 281.6,118.8 281.2,117.7 281.4,116.8 281.7,115.9 282.5,115.1 282.3,114.1 282.5,113.1 282.6,112.2 282.1,111.1 282.7,110.2 283.8,109.6 283.8,108.6 284.0,107.6 284.3,106.7 284.1,105.7 284.7,104.9 284.7,103.9 285.2,103.0 285.4,102.1 285.7,101.2 345.4,121.7 351.6,123.3 356.8,124.7 360.1,125.6 363.2,126.4 366.2,127.2 368.2,127.8 373.2,129.2 375.0,129.7 377.0,130.3 378.6,130.7 381.7,131.6 382.7,131.9 383.7,132.1 385.5,132.4 385.7,132.5 387.5,132.8 387.7,132.8 388.7,133.0 389.7,133.2 391.5,133.5 391.7,133.5 392.7,133.7 393.7,133.8 394.7,133.9 396.5,134.2 396.7,134.2 397.7,134.3 398.7,134.4 399.7,134.5 400.7,134.6 401.7,134.6 403.6,134.6 403.7,134.6 404.7,134.6 406.6,134.6 406.8,134.6 407.8,134.5 409.6,134.2 409.8,134.1 410.7,133.9 411.7,133.7 412.7,133.4 412.7,133.4 413.3,132.6 413.7,131.6 414.4,130.9 414.9,130.0 416.2,129.8 416.4,128.7 417.9,128.7 418.5,128.0 419.0,126.5 418.8,125.3 420.4,125.6 421.3,125.3 422.2,124.9 422.5,123.4 423.7,123.6 424.5,122.9 425.5,122.6 427.0,123.1 427.1,121.5 428.2,121.2 429.3,120.3 429.1,119.3 429.9,118.6 430.5,117.8 431.0,116.9 431.1,115.5 432.4,115.4 433.6,115.2 433.5,113.4 435.1,114.1 435.6,113.1 435.9,112.1 437.9,112.6 438.0,111.3 437.9,109.7 439.2,109.6 440.2,109.3 440.8,108.4 442.0,108.4 442.6,107.5 443.7,107.3 444.9,107.2 444.9,105.6 446.1,105.5 446.6,104.6 447.7,104.3 448.0,103.1 449.1,102.8 450.0,102.4 451.3,102.2 452.1,101.6 451.7,99.7 452.5,99.1 453.7,99.0 453.1,96.9 454.6,96.4 455.1,96.0 456.3,95.9 456.7,94.8 456.9,93.6 457.7,93.0 458.6,92.4 460.2,92.8 460.3,91.3 461.3,90.9 462.5,90.8 463.2,90.1 464.1,89.5 464.5,88.4 465.7,88.2 466.1,87.3 467.6,87.0 467.8,86.0 467.9,84.9 468.8,84.2 468.7,82.9 470.0,82.4 469.8,81.2 470.5,80.5 469.8,79.0 471.2,78.5 470.3,77.1 470.4,76.0 471.8,75.5 471.8,74.4 472.7,73.8 474.3,73.4 472.8,71.6 473.3,70.7 474.2,70.0 474.8,69.2 474.8,68.1 475.3,67.2 476.3,66.7 476.7,65.8 476.5,64.3 477.5,63.9 478.2,63.1 478.3,61.9 479.5,61.6 479.6,60.4 481.2,60.3 481.4,59.2 481.9,58.4 482.2,57.3 483.1,56.7 482.8,55.2 483.9,54.8 485.2,54.6 484.6,52.8 486.8,53.3 486.1,51.4 488.0,51.7 487.8,50.3 489.2,50.1 489.4,49.1 489.1,47.6 491.2,47.8 491.8,47.0 491.5,45.7 491.8,44.7 492.4,43.9 492.5,42.8 494.2,42.7 494.0,41.3 494.8,40.7 495.3,39.8 496.0,39.1 496.7,38.3 497.4,37.6 497.4,37.6 498.4,37.9 499.3,38.2 500.3,38.5 501.3,38.8 502.8,39.3 503.2,39.4 504.7,39.9 505.1,40.0 506.7,40.5 507.0,40.7 508.0,41.0 509.0,41.3 509.9,41.6 510.9,41.9 511.8,42.2 512.8,42.5 513.8,42.8 514.7,43.1 516.3,43.6 516.7,43.7 517.6,44.0 518.6,44.3 519.5,44.6 520.5,44.9 521.5,45.2 522.4,45.5 523.4,45.9 524.4,46.2 525.3,46.5 526.3,46.8 527.9,47.3 528.2,47.4 529.2,47.7 530.1,48.0 531.1,48.3 531.1,54.6 531.1,60.8 531.0,67.1 531.0,73.3 531.0,79.6 531.0,85.8 530.9,92.1 530.9,98.4 530.9,104.6 530.9,110.9 530.8,117.1 530.8,123.4 530.8,129.7 530.8,135.9 530.7,142.2 530.7,148.4 530.7,154.7 530.6,160.9 530.6,167.2 530.6,173.5 530.6,179.7 530.6,186.0 530.5,192.2 530.5,198.5 530.5,204.7 530.5,211.0 530.4,217.3 530.4,223.5 530.4,229.8 530.4,236.0 530.3,242.3 530.3,248.6 530.3,254.8 530.2,261.1 530.2,267.3 530.2,273.6 530.2,279.8 530.1,286.1 530.1,292.4 530.1,298.6 530.1,304.9 530.0,311.1 530.0,317.4 530.0,323.6 530.0,329.9 530.0,336.2 529.9,342.4 529.9,348.7 529.9,354.9 529.9,361.2 529.8,367.4 529.8,373.7 529.8,380.0 529.8,386.2 529.7,392.5 529.7,398.7 529.7,405.0 529.6,411.3 529.6,417.5 529.6,423.8 529.6,430.0 529.5,436.3 529.5,442.5 529.5,448.8"/><g stroke-width="1.5"><circle cx="95.5" cy="452.5" r="4.65"/><circle cx="97.6" cy="452.5" r="5.00" fill="#f00"/><circle cx="98.4" cy="452.5" r="5.00" fill="#f00"/><circle cx="99.4" cy="452.7" r="5.00" fill="#f00"/><circle cx="100.3" cy="452.1" r="4.65"/><circle cx="102.0" cy="452.1" r="5.00" fill="#f00"/><circle cx="102.2" cy="451.9" r="5.00" fill="#f00"/><circle cx="103.2" cy="452.1" r="5.00" fill="#f00"/><circle cx="104.1" cy="451.8" r="4.65"/><circle cx="105.8" cy="452.2" r="5.00" fill="#f00"/><circle cx="106.0" cy="452.1" r="5.00" fill="#f00"/><circle cx="107.2" cy="452.5" r="4.65"/><circle cx="108.7" cy="451.3" r="5.00" fill="#f00"/><circle cx="108.8" cy="451.2" r="5.00" fill="#f00"/><circle cx="109.7" cy="450.9" r="5.00" fill="#f00"/><circle cx="110.4" cy="450.0" r="4.65"/><circle cx="112.5" cy="449.9" r="5.00" fill="#f00"/><circle cx="113.0" cy="448.9" r="5.00" fill="#f00"/><circle cx="114.0" cy="448.7" r="5.00" fill="#f00"/><circle cx="114.8" cy="448.1" r="5.00" fill="#f00"/><circle cx="115.7" cy="447.9" r="5.00" fill="#f00"/><circle cx="116.4" cy="447.1" r="5.00" fill="#f00"/><circle cx="117.2" cy="446.7" r="5.00" fill="#f00"/><circle cx="118.1" cy="446.3" r="5.00" fill="#f00"/><circle cx="118.9" cy="445.8" r="5.00" fill="#f00"/><circle cx="119.5" cy="444.9" r="5.00" fill="#f00"/><circle cx="120.6" cy="445.0" r="5.00" fill="#f00"/><circle cx="121.0" cy="443.7" r="5.00" fill="#f00"/><circle cx="121.8" cy="443.2" r="5.00" fill="#f00"/><circle cx="122.5" cy="442.7" r="5.00" fill="#f00"/><circle cx="123.8" cy="442.9" r="5.00" fill="#f00"/><circle cx="124.3" cy="441.9" r="5.00" fill="#f00"/><circle cx="124.9" cy="441.1" r="5.00" fill="#f00"/><circle cx="125.7" cy="440.5" r="5.00" fill="#f00"/><circle cx="126.8" cy="440.5" r="5.00" fill="#f00"/><circle cx="127.3" cy="439.5" r="5.00" fill="#f00"/><circle cx="128.0" cy="438.8" r="5.00" fill="#f00"/><circle cx="129.2" cy="438.9" r="5.00" fill="#f00"/><circle cx="129.6" cy="437.8" r="5.00" fill="#f00"/><circle cx="130.5" cy="437.5" r="5.00" fill="#f00"/><circle cx="131.4" cy="437.1" r="5.00" fill="#f00"/><circle cx="132.1" cy="436.4" r="5.00" fill="#f00"/><circle cx="132.9" cy="436.0" r="5.00" fill="#f00"/><circle cx="134.0" cy="435.9" r="5.00" fill="#f00"/><circle cx="134.4" cy="434.7" r="5.00" fill="#f00"/><circle cx="134.9" cy="433.9" r="5.00" fill="#f00"/><circle cx="135.6" cy="433.2" r="5.00" fill="#f00"/><circle cx="136.7" cy="433.1" r="5.00" fill="#f00"/><circle cx="137.4" cy="432.5" r="5.00" fill="#f00"/><circle cx="138.3" cy="432.0" r="5.00" fill="#f00"/><circle cx="138.8" cy="431.2" r="5.00" fill="#f00"/><circle cx="139.5" cy="430.5" r="5.00" fill="#f00"/><circle cx="140.1" cy="429.8" r="5.00" fill="#f00"/><circle cx="140.9" cy="429.2" r="5.00" fill="#f00"/><circle cx="141.8" cy="428.8" r="5.00" fill="#f00"/><circle cx="142.3" cy="428.0" r="5.00" fill="#f00"/><circle cx="143.2" cy="427.5" r="5.00" fill="#f00"/><circle cx="144.4" cy="427.4" r="5.00" fill="#f00"/><circle cx="144.7" cy="426.3" r="5.00" fill="#f00"/><circle cx="144.8" cy="425.1" r="5.00" fill="#f00"/><circle cx="146.4" cy="425.4" r="5.00" fill="#f00"/><circle cx="146.8" cy="424.4" r="5.00" fill="#f00"/><circle cx="147.1" cy="423.3" r="5.00" fill="#f00"/><circle cx="148.3" cy="423.2" r="5.00" fill="#f00"/><circle cx="148.7" cy="422.3" r="5.00" fill="#f00"/><circle cx="149.2" cy="421.4" r="5.00" fill="#f00"/><circle cx="149.8" cy="420.7" r="5.00" fill="#f00"/><circle cx="150.4" cy="419.9" r="5.00" fill="#f00"/><circle cx="151.3" cy="419.5" r="5.00" fill="#f00"/><circle cx="152.2" cy="419.1" r="5.00" fill="#f00"/><circle cx="152.4" cy="418.0" r="5.00" fill="#f00"/><circle cx="153.3" cy="417.5" r="5.00" fill="#f00"/><circle cx="154.3" cy="417.1" r="5.00" fill="#f00"/><circle cx="154.0" cy="415.6" r="5.00" fill="#f00"/><circle cx="155.0" cy="415.2" r="5.00" fill="#f00"/><circle cx="155.4" cy="414.3" r="5.00" fill="#f00"/><circle cx="155.8" cy="413.4" r="5.00" fill="#f00"/><circle cx="156.4" cy="412.7" r="5.00" fill="#f00"/><circle cx="157.3" cy="412.2" r="5.00" fill="#f00"/><circle cx="158.0" cy="411.5" r="5.00" fill="#f00"/><circle cx="158.3" cy="410.5" r="5.00" fill="#f00"/><circle cx="159.1" cy="409.9" r="5.00" fill="#f00"/><circle cx="159.9" cy="409.4" r="5.00" fill="#f00"/><circle cx="160.4" cy="408.6" r="5.00" fill="#f00"/><circle cx="161.2" cy="408.0" r="5.00" fill="#f00"/><circle cx="161.7" cy="407.2" r="5.00" fill="#f00"/><circle cx="162.3" cy="406.4" r="5.00" fill="#f00"/><circle cx="163.4" cy="406.0" r="5.00" fill="#f00"/><circle cx="163.6" cy="405.0" r="5.00" fill="#f00"/><circle cx="164.0" cy="404.1" r="5.00" fill="#f00"/><circle cx="164.7" cy="403.5" r="5.00" fill="#f00"/><circle cx="164.8" cy="402.3" r="5.00" fill="#f00"/><circle cx="165.5" cy="401.7" r="5.00" fill="#f00"/><circle cx="166.4" cy="401.1" r="5.00" fill="#f00"/><circle cx="166.9" cy="400.3" r="5.00" fill="#f00"/><circle cx="167.7" cy="399.7" r="5.00" fill="#f00"/><circle cx="167.7" cy="398.6" r="5.00" fill="#f00"/><circle cx="167.8" cy="397.5" r="5.00" fill="#f00"/><circle cx="169.4" cy="397.5" r="5.00" fill="#f00"/><circle cx="169.7" cy="396.5" r="5.00" fill="#f00"/><circle cx="169.5" cy="395.2" r="5.00" fill="#f00"/><circle cx="170.8" cy="395.0" r="5.00" fill="#f00"/><circle cx="170.9" cy="393.9" r="5.00" fill="#f00"/><circle cx="170.9" cy="392.6" r="5.00" fill="#f00"/><circle cx="171.8" cy="392.2" r="5.00" fill="#f00"/><circle cx="172.3" cy="391.4" r="5.00" fill="#f00"/><circle cx="173.6" cy="391.1" r="5.00" fill="#f00"/><circle cx="173.3" cy="389.7" r="5.00" fill="#f00"/><circle cx="174.1" cy="389.1" r="5.00" fill="#f00"/><circle cx="174.6" cy="388.3" r="5.00" fill="#f00"/><circle cx="175.1" cy="387.5" r="5.00" fill="#f00"/><circle cx="175.5" cy="386.6" r="5.00" fill="#f00"/><circle cx="176.4" cy="386.1" r="5.00" fill="#f00"/><circle cx="177.3" cy="385.5" r="5.00" fill="#f00"/><circle cx="177.7" cy="384.6" r="5.00" fill="#f00"/><circle cx="177.7" cy="383.5" r="5.00" fill="#f00"/><circle cx="178.1" cy="382.7" r="5.00" fill="#f00"/><circle cx="179.1" cy="382.2" r="5.00" fill="#f00"/><circle cx="179.3" cy="381.2" r="5.00" fill="#f00"/><circle cx="179.9" cy="380.4" r="5.00" fill="#f00"/><circle cx="180.0" cy="379.4" r="5.00" fill="#f00"/><circle cx="181.8" cy="379.4" r="5.00" fill="#f00"/><circle cx="181.9" cy="378.3" r="5.00" fill="#f00"/><circle cx="181.8" cy="377.1" r="5.00" fill="#f00"/><circle cx="182.9" cy="376.7" r="5.00" fill="#f00"/><circle cx="183.5" cy="375.9" r="5.00" fill="#f00"/><circle cx="182.7" cy="374.4" r="5.00" fill="#f00"/><circle cx="183.8" cy="373.9" r="5.00" fill="#f00"/><circle cx="184.3" cy="373.1" r="5.00" fill="#f00"/><circle cx="185.2" cy="372.5" r="5.00" fill="#f00"/><circle cx="185.4" cy="371.5" r="5.00" fill="#f00"/><circle cx="185.8" cy="370.7" r="5.00" fill="#f00"/><circle cx="186.3" cy="369.9" r="5.00" fill="#f00"/><circle cx="187.4" cy="369.5" r="5.00" fill="#f00"/><circle cx="188.0" cy="368.7" r="5.00" fill="#f00"/><circle cx="187.6" cy="367.3" r="5.00" fill="#f00"/><circle cx="188.0" cy="366.4" r="5.00" fill="#f00"/><circle cx="189.7" cy="366.4" r="5.00" fill="#f00"/><circle cx="188.9" cy="364.8" r="5.00" fill="#f00"/><circle cx="189.6" cy="364.1" r="5.00" fill="#f00"/><circle cx="190.3" cy="363.4" r="5.00" fill="#f00"/><circle cx="190.9" cy="362.7" r="5.00" fill="#f00"/><circle cx="191.6" cy="362.0" r="5.00" fill="#f00"/><circle cx="191.8" cy="361.0" r="5.00" fill="#f00"/><circle cx="191.9" cy="359.9" r="5.00" fill="#f00"/><circle cx="192.8" cy="359.4" r="5.00" fill="#f00"/><circle cx="193.2" cy="358.5" r="5.00" fill="#f00"/><circle cx="194.2" cy="357.9" r="5.00" fill="#f00"/><circle cx="194.0" cy="356.7" r="5.00" fill="#f00"/><circle cx="193.9" cy="355.6" r="5.00" fill="#f00"/><circle cx="194.5" cy="354.9" r="5.00" fill="#f00"/><circle cx="195.8" cy="354.5" r="5.00" fill="#f00"/><circle cx="195.5" cy="353.2" r="5.00" fill="#f00"/><circle cx="195.3" cy="352.1" r="5.00" fill="#f00"/><circle cx="196.3" cy="351.5" r="5.00" fill="#f00"/><circle cx="196.9" cy="350.8" r="5.00" fill="#f00"/><circle cx="197.7" cy="350.1" r="5.00" fill="#f00"/><circle cx="197.3" cy="348.8" r="5.00" fill="#f00"/><circle cx="198.3" cy="348.3" r="5.00" fill="#f00"/><circle cx="198.8" cy="347.4" r="5.00" fill="#f00"/><circle cx="198.6" cy="346.3" r="5.00" fill="#f00"/><circle cx="199.2" cy="345.6" r="5.00" fill="#f00"/><circle cx="200.4" cy="345.0" r="5.00" fill="#f00"/><circle cx="200.8" cy="344.2" r="5.00" fill="#f00"/><circle cx="200.9" cy="343.2" r="5.00" fill="#f00"/><circle cx="201.1" cy="342.2" r="5.00" fill="#f00"/><circle cx="201.8" cy="341.5" r="5.00" fill="#f00"/><circle cx="201.8" cy="340.4" r="5.00" fill="#f00"/><circle cx="202.2" cy="339.6" r="5.00" fill="#f00"/><circle cx="202.3" cy="338.6" r="5.00" fill="#f00"/><circle cx="203.1" cy="337.9" r="5.00" fill="#f00"/><circle cx="203.4" cy="337.0" r="5.00" fill="#f00"/><circle cx="204.9" cy="336.6" r="5.00" fill="#f00"/><circle cx="204.2" cy="335.3" r="5.00" fill="#f00"/><circle cx="205.2" cy="334.7" r="5.00" fill="#f00"/><circle cx="205.6" cy="333.8" r="5.00" fill="#f00"/><circle cx="205.5" cy="332.7" r="5.00" fill="#f00"/><circle cx="206.4" cy="332.1" r="5.00" fill="#f00"/><circle cx="205.5" cy="330.7" r="5.00" fill="#f00"/><circle cx="206.8" cy="330.2" r="5.00" fill="#f00"/><circle cx="207.5" cy="329.4" r="5.00" fill="#f00"/><circle cx="206.7" cy="328.0" r="5.00" fill="#f00"/><circle cx="207.5" cy="327.4" r="5.00" fill="#f00"/><circle cx="208.7" cy="326.9" r="5.00" fill="#f00"/><circle cx="208.5" cy="325.8" r="5.00" fill="#f00"/><circle cx="208.6" cy="324.7" r="5.00" fill="#f00"/><circle cx="209.2" cy="324.0" r="5.00" fill="#f00"/><circle cx="209.5" cy="323.1" r="5.00" fill="#f00"/><circle cx="210.3" cy="322.4" r="5.00" fill="#f00"/><circle cx="210.5" cy="321.5" r="5.00" fill="#f00"/><circle cx="210.6" cy="320.5" r="5.00" fill="#f00"/><circle cx="210.9" cy="319.5" r="5.00" fill="#f00"/><circle cx="211.5" cy="318.8" r="5.00" fill="#f00"/><circle cx="212.4" cy="318.1" r="5.00" fill="#f00"/><circle cx="212.4" cy="317.1" r="5.00" fill="#f00"/><circle cx="213.0" cy="316.3" r="5.00" fill="#f00"/><circle cx="213.1" cy="315.3" r="5.00" fill="#f00"/><circle cx="213.1" cy="314.3" r="5.00" fill="#f00"/><circle cx="213.7" cy="313.5" r="5.00" fill="#f00"/><circle cx="214.6" cy="312.8" r="5.00" fill="#f00"/><circle cx="214.7" cy="311.9" r="5.00" fill="#f00"/><circle cx="214.7" cy="310.8" r="5.00" fill="#f00"/><circle cx="214.8" cy="309.9" r="5.00" fill="#f00"/><circle cx="215.8" cy="309.2" r="5.00" fill="#f00"/><circle cx="216.0" cy="308.3" r="5.00" fill="#f00"/><circle cx="216.4" cy="307.4" r="5.00" fill="#f00"/><circle cx="216.7" cy="306.5" r="5.00" fill="#f00"/><circle cx="217.3" cy="305.7" r="5.00" fill="#f00"/><circle cx="217.6" cy="304.8" r="5.00" fill="#f00"/><circle cx="218.2" cy="304.1" r="5.00" fill="#f00"/><circle cx="218.6" cy="303.2" r="5.00" fill="#f00"/><circle cx="219.1" cy="302.3" r="5.00" fill="#f00"/><circle cx="219.2" cy="301.4" r="5.00" fill="#f00"/><circle cx="219.2" cy="300.3" r="5.00" fill="#f00"/><circle cx="219.7" cy="299.5" r="5.00" fill="#f00"/><circle cx="220.3" cy="298.7" r="5.00" fill="#f00"/><circle cx="220.4" cy="297.7" r="5.00" fill="#f00"/><circle cx="221.1" cy="297.0" r="5.00" fill="#f00"/><circle cx="221.7" cy="296.2" r="5.00" fill="#f00"/><circle cx="221.4" cy="295.1" r="5.00" fill="#f00"/><circle cx="221.4" cy="294.1" r="5.00" fill="#f00"/><circle cx="222.9" cy="293.6" r="5.00" fill="#f00"/><circle cx="222.8" cy="292.6" r="5.00" fill="#f00"/><circle cx="223.4" cy="291.8" r="5.00" fill="#f00"/><circle cx="222.9" cy="290.6" r="5.00" fill="#f00"/><circle cx="224.4" cy="290.1" r="5.00" fill="#f00"/><circle cx="224.3" cy="289.1" r="5.00" fill="#f00"/><circle cx="224.3" cy="288.0" r="5.00" fill="#f00"/><circle cx="224.5" cy="287.1" r="5.00" fill="#f00"/><circle cx="225.0" cy="286.3" r="5.00" fill="#f00"/><circle cx="225.2" cy="285.3" r="5.00" fill="#f00"/><circle cx="225.5" cy="284.4" r="5.00" fill="#f00"/><circle cx="225.6" cy="283.4" r="5.00" fill="#f00"/><circle cx="226.8" cy="282.9" r="5.00" fill="#f00"/><circle cx="226.7" cy="281.8" r="5.00" fill="#f00"/><circle cx="227.1" cy="281.0" r="5.00" fill="#f00"/><circle cx="227.5" cy="280.1" r="5.00" fill="#f00"/><circle cx="227.0" cy="278.9" r="5.00" fill="#f00"/><circle cx="228.5" cy="278.5" r="5.00" fill="#f00"/><circle cx="228.6" cy="277.5" r="5.00" fill="#f00"/><circle cx="229.0" cy="276.6" r="5.00" fill="#f00"/><circle cx="229.5" cy="275.8" r="5.00" fill="#f00"/><circle cx="229.4" cy="274.7" r="5.00" fill="#f00"/><circle cx="230.5" cy="274.1" r="5.00" fill="#f00"/><circle cx="230.3" cy="273.0" r="5.00" fill="#f00"/><circle cx="230.6" cy="272.1" r="5.00" fill="#f00"/><circle cx="230.9" cy="271.2" r="5.00" fill="#f00"/><circle cx="231.7" cy="270.5" r="5.00" fill="#f00"/><circle cx="232.3" cy="269.7" r="5.00" fill="#f00"/><circle cx="232.1" cy="268.6" r="5.00" fill="#f00"/><circle cx="232.1" cy="267.6" r="5.00" fill="#f00"/><circle cx="233.4" cy="267.1" r="5.00" fill="#f00"/><circle cx="233.0" cy="265.9" r="5.00" fill="#f00"/><circle cx="234.1" cy="265.4" r="5.00" fill="#f00"/><circle cx="234.0" cy="264.3" r="5.00" fill="#f00"/><circle cx="234.1" cy="263.3" r="5.00" fill="#f00"/><circle cx="234.4" cy="262.4" r="5.00" fill="#f00"/><circle cx="235.1" cy="261.6" r="5.00" fill="#f00"/><circle cx="235.5" cy="260.8" r="5.00" fill="#f00"/><circle cx="235.4" cy="259.7" r="5.00" fill="#f00"/><circle cx="236.2" cy="259.0" r="5.00" fill="#f00"/><circle cx="236.9" cy="258.3" r="5.00" fill="#f00"/><circle cx="236.4" cy="257.0" r="5.00" fill="#f00"/><circle cx="236.4" cy="256.0" r="5.00" fill="#f00"/><circle cx="236.8" cy="255.2" r="5.00" fill="#f00"/><circle cx="237.0" cy="254.2" r="5.00" fill="#f00"/><circle cx="237.6" cy="253.5" r="5.00" fill="#f00"/><circle cx="238.0" cy="252.6" r="5.00" fill="#f00"/><circle cx="238.1" cy="251.6" r="5.00" fill="#f00"/><circle cx="239.2" cy="251.0" r="5.00" fill="#f00"/><circle cx="238.4" cy="249.7" r="5.00" fill="#f00"/><circle cx="239.2" cy="249.0" r="5.00" fill="#f00"/><circle cx="240.8" cy="248.5" r="5.00" fill="#f00"/><circle cx="240.7" cy="247.5" r="5.00" fill="#f00"/><circle cx="240.8" cy="246.5" r="5.00" fill="#f00"/><circle cx="241.1" cy="245.6" r="5.00" fill="#f00"/><circle cx="242.0" cy="244.9" r="5.00" fill="#f00"/><circle cx="241.8" cy="243.8" r="5.00" fill="#f00"/><circle cx="241.9" cy="242.9" r="5.00" fill="#f00"/><circle cx="241.8" cy="241.8" r="5.00" fill="#f00"/><circle cx="242.5" cy="241.1" r="5.00" fill="#f00"/><circle cx="242.6" cy="240.1" r="5.00" fill="#f00"/><circle cx="242.9" cy="239.2" r="5.00" fill="#f00"/><circle cx="243.2" cy="238.3" r="5.00" fill="#f00"/><circle cx="243.7" cy="237.5" r="5.00" fill="#f00"/><circle cx="243.9" cy="236.5" r="5.00" fill="#f00"/><circle cx="244.6" cy="235.8" r="5.00" fill="#f00"/><circle cx="244.0" cy="234.6" r="5.00" fill="#f00"/><circle cx="244.7" cy="233.8" r="5.00" fill="#f00"/><circle cx="245.7" cy="233.1" r="5.00" fill="#f00"/><circle cx="245.3" cy="232.0" r="5.00" fill="#f00"/><circle cx="246.0" cy="231.2" r="5.00" fill="#f00"/><circle cx="246.3" cy="230.3" r="5.00" fill="#f00"/><circle cx="246.7" cy="229.4" r="5.00" fill="#f00"/><circle cx="246.8" cy="228.5" r="5.00" fill="#f00"/><circle cx="246.4" cy="227.3" r="5.00" fill="#f00"/><circle cx="247.1" cy="226.6" r="5.00" fill="#f00"/><circle cx="247.5" cy="225.7" r="5.00" fill="#f00"/><circle cx="247.4" cy="224.6" r="5.00" fill="#f00"/><circle cx="248.1" cy="223.9" r="5.00" fill="#f00"/><circle cx="248.2" cy="222.9" r="5.00" fill="#f00"/><circle cx="248.4" cy="222.0" r="5.00" fill="#f00"/><circle cx="249.4" cy="221.3" r="5.00" fill="#f00"/><circle cx="249.6" cy="220.4" r="5.00" fill="#f00"/><circle cx="249.6" cy="219.4" r="5.00" fill="#f00"/><circle cx="249.8" cy="218.4" r="5.00" fill="#f00"/><circle cx="250.2" cy="217.6" r="5.00" fill="#f00"/><circle cx="250.6" cy="216.7" r="5.00" fill="#f00"/><circle cx="250.8" cy="215.8" r="5.00" fill="#f00"/><circle cx="251.2" cy="214.9" r="5.00" fill="#f00"/><circle cx="251.3" cy="213.9" r="5.00" fill="#f00"/><circle cx="251.9" cy="213.1" r="5.00" fill="#f00"/><circle cx="252.2" cy="212.2" r="5.00" fill="#f00"/><circle cx="252.5" cy="211.3" r="5.00" fill="#f00"/><circle cx="252.4" cy="210.3" r="5.00" fill="#f00"/><circle cx="252.8" cy="209.4" r="5.00" fill="#f00"/><circle cx="253.5" cy="208.7" r="5.00" fill="#f00"/><circle cx="253.6" cy="207.7" r="5.00" fill="#f00"/><circle cx="254.0" cy="206.8" r="5.00" fill="#f00"/><circle cx="253.4" cy="205.6" r="5.00" fill="#f00"/><circle cx="253.6" cy="204.7" r="5.00" fill="#f00"/><circle cx="255.1" cy="204.2" r="5.00" fill="#f00"/><circle cx="255.4" cy="203.3" r="5.00" fill="#f00"/><circle cx="256.1" cy="202.5" r="5.00" fill="#f00"/><circle cx="256.1" cy="201.5" r="5.00" fill="#f00"/><circle cx="256.2" cy="200.5" r="5.00" fill="#f00"/><circle cx="256.4" cy="199.6" r="5.00" fill="#f00"/><circle cx="256.2" cy="198.5" r="5.00" fill="#f00"/><circle cx="257.3" cy="197.9" r="5.00" fill="#f00"/><circle cx="257.0" cy="196.8" r="5.00" fill="#f00"/><circle cx="257.7" cy="196.0" r="5.00" fill="#f00"/><circle cx="257.9" cy="195.1" r="5.00" fill="#f00"/><circle cx="258.2" cy="194.2" r="5.00" fill="#f00"/><circle cx="258.7" cy="193.3" r="5.00" fill="#f00"/><circle cx="258.4" cy="192.3" r="5.00" fill="#f00"/><circle cx="258.7" cy="191.4" r="5.00" fill="#f00"/><circle cx="258.8" cy="190.4" r="5.00" fill="#f00"/><circle cx="259.3" cy="189.5" r="5.00" fill="#f00"/><circle cx="260.3" cy="188.9" r="5.00" fill="#f00"/><circle cx="259.8" cy="187.7" r="5.00" fill="#f00"/><circle cx="260.6" cy="187.0" r="5.00" fill="#f00"/><circle cx="260.7" cy="186.0" r="5.00" fill="#f00"/><circle cx="261.0" cy="185.1" r="5.00" fill="#f00"/><circle cx="261.3" cy="184.2" r="5.00" fill="#f00"/><circle cx="260.8" cy="183.1" r="5.00" fill="#f00"/><circle cx="261.6" cy="182.3" r="5.00" fill="#f00"/><circle cx="262.4" cy="181.5" r="5.00" fill="#f00"/><circle cx="261.8" cy="180.4" r="5.00" fill="#f00"/><circle cx="262.3" cy="179.5" r="5.00" fill="#f00"/><circle cx="262.3" cy="178.6" r="5.00" fill="#f00"/><circle cx="263.0" cy="177.8" r="5.00" fill="#f00"/><circle cx="262.7" cy="176.7" r="5.00" fill="#f00"/><circle cx="264.0" cy="176.1" r="5.00" fill="#f00"/><circle cx="263.6" cy="175.0" r="5.00" fill="#f00"/><circle cx="263.4" cy="173.9" r="5.00" fill="#f00"/><circle cx="265.0" cy="173.4" r="5.00" fill="#f00"/><circle cx="265.0" cy="172.4" r="5.00" fill="#f00"/><circle cx="265.1" cy="171.4" r="5.00" fill="#f00"/><circle cx="265.4" cy="170.5" r="5.00" fill="#f00"/><circle cx="265.4" cy="169.5" r="5.00" fill="#f00"/><circle cx="265.7" cy="168.7" r="5.00" fill="#f00"/><circle cx="266.4" cy="167.9" r="5.00" fill="#f00"/><circle cx="266.8" cy="167.0" r="5.00" fill="#f00"/><circle cx="267.0" cy="166.1" r="5.00" fill="#f00"/><circle cx="267.0" cy="165.1" r="5.00" fill="#f00"/><circle cx="267.1" cy="164.1" r="5.00" fill="#f00"/><circle cx="267.4" cy="163.2" r="5.00" fill="#f00"/><circle cx="268.2" cy="162.4" r="5.00" fill="#f00"/><circle cx="268.5" cy="161.6" r="5.00" fill="#f00"/><circle cx="268.1" cy="160.4" r="5.00" fill="#f00"/><circle cx="268.3" cy="159.5" r="5.00" fill="#f00"/><circle cx="269.2" cy="158.8" r="5.00" fill="#f00"/><circle cx="269.3" cy="157.8" r="5.00" fill="#f00"/><circle cx="269.5" cy="156.9" r="5.00" fill="#f00"/><circle cx="269.0" cy="155.7" r="5.00" fill="#f00"/><circle cx="269.7" cy="154.9" r="5.00" fill="#f00"/><circle cx="269.9" cy="154.0" r="5.00" fill="#f00"/><circle cx="270.4" cy="153.2" r="5.00" fill="#f00"/><circle cx="270.0" cy="152.1" r="5.00" fill="#f00"/><circle cx="271.4" cy="151.5" r="5.00" fill="#f00"/><circle cx="271.3" cy="150.5" r="5.00" fill="#f00"/><circle cx="271.6" cy="149.6" r="5.00" fill="#f00"/><circle cx="271.3" cy="148.5" r="5.00" fill="#f00"/><circle cx="272.0" cy="147.7" r="5.00" fill="#f00"/><circle cx="272.8" cy="147.0" r="5.00" fill="#f00"/><circle cx="272.0" cy="145.7" r="5.00" fill="#f00"/><circle cx="273.0" cy="145.0" r="5.00" fill="#f00"/><circle cx="273.4" cy="144.2" r="5.00" fill="#f00"/><circle cx="273.2" cy="143.1" r="5.00" fill="#f00"/><circle cx="274.1" cy="142.4" r="5.00" fill="#f00"/><circle cx="274.0" cy="141.4" r="5.00" fill="#f00"/><circle cx="274.9" cy="140.6" r="5.00" fill="#f00"/><circle cx="274.9" cy="139.6" r="5.00" fill="#f00"/><circle cx="275.1" cy="138.7" r="5.00" fill="#f00"/><circle cx="276.0" cy="138.0" r="5.00" fill="#f00"/><circle cx="275.8" cy="136.9" r="5.00" fill="#f00"/><circle cx="276.3" cy="136.1" r="5.00" fill="#f00"/><circle cx="275.6" cy="134.9" r="5.00" fill="#f00"/><circle cx="276.0" cy="134.0" r="5.00" fill="#f00"/><circle cx="276.9" cy="133.3" r="5.00" fill="#f00"/><circle cx="277.1" cy="132.4" r="5.00" fill="#f00"/><circle cx="277.0" cy="131.4" r="5.00" fill="#f00"/><circle cx="277.6" cy="130.5" r="5.00" fill="#f00"/><circle cx="277.2" cy="129.4" r="5.00" fill="#f00"/><circle cx="277.9" cy="128.6" r="5.00" fill="#f00"/><circle cx="277.7" cy="127.6" r="5.00" fill="#f00"/><circle cx="278.5" cy="126.8" r="5.00" fill="#f00"/><circle cx="278.5" cy="125.8" r="5.00" fill="#f00"/><circle cx="278.7" cy="124.9" r="5.00" fill="#f00"/><circle cx="279.3" cy="124.1" r="5.00" fill="#f00"/><circle cx="280.2" cy="123.4" r="5.00" fill="#f00"/><circle cx="279.4" cy="122.2" r="5.00" fill="#f00"/><circle cx="279.9" cy="121.3" r="5.00" fill="#f00"/><circle cx="280.8" cy="120.6" r="5.00" fill="#f00"/><circle cx="280.5" cy="119.5" r="5.00" fill="#f00"/><circle cx="281.6" cy="118.8" r="5.00" fill="#f00"/><circle cx="281.2" cy="117.7" r="5.00" fill="#f00"/><circle cx="281.4" cy="116.8" r="5.00" fill="#f00"/><circle cx="281.7" cy="115.9" r="5.00" fill="#f00"/><circle cx="282.5" cy="115.1" r="5.00" fill="#f00"/><circle cx="282.3" cy="114.1" r="5.00" fill="#f00"/><circle cx="282.5" cy="113.1" r="5.00" fill="#f00"/><circle cx="282.6" cy="112.2" r="5.00" fill="#f00"/><circle cx="282.1" cy="111.1" r="5.00" fill="#f00"/><circle cx="282.7" cy="110.2" r="5.00" fill="#f00"/><circle cx="283.8" cy="109.6" r="5.00" fill="#f00"/><circle cx="283.8" cy="108.6" r="5.00" fill="#f00"/><circle cx="284.0" cy="107.6" r="5.00" fill="#f00"/><circle cx="284.3" cy="106.7" r="5.00" fill="#f00"/><circle cx="284.1" cy="105.7" r="5.00" fill="#f00"/><circle cx="284.7" cy="104.9" r="5.00" fill="#f00"/><circle cx="284.7" cy="103.9" r="5.00" fill="#f00"/><circle cx="285.2" cy="103.0" r="5.00" fill="#f00"/><circle cx="285.4" cy="102.1" r="5.00" fill="#f00"/><circle cx="285.7" cy="101.2" r="4.65"/><circle cx="345.4" cy="121.7" r="4.65"/><circle cx="351.6" cy="123.3" r="4.65"/><circle cx="356.8" cy="124.7" r="4.65"/><circle cx="360.1" cy="125.6" r="4.65"/><circle cx="363.2" cy="126.4" r="4.65"/><circle cx="366.2" cy="127.2" r="4.65"/><circle cx="368.2" cy="127.8" r="4.65"/><circle cx="373.2" cy="129.2" r="4.65"/><circle cx="375.0" cy="129.7" r="4.65"/><circle cx="377.0" cy="130.3" r="4.65"/><circle cx="378.6" cy="130.7" r="4.65"/><circle cx="381.7" cy="131.6" r="4.65"/><circle cx="382.7" cy="131.9" r="5.00" fill="#f00"/><circle cx="383.7" cy="132.1" r="4.65"/><circle cx="385.5" cy="132.4" r="5.00" fill="#f00"/><circle cx="385.7" cy="132.5" r="4.65"/><circle cx="387.5" cy="132.8" r="5.00" fill="#f00"/><circle cx="387.7" cy="132.8" r="5.00" fill="#f00"/><circle cx="388.7" cy="133.0" r="5.00" fill="#f00"/><circle cx="389.7" cy="133.2" r="4.65"/><circle cx="391.5" cy="133.5" r="5.00" fill="#f00"/><circle cx="391.7" cy="133.5" r="5.00" fill="#f00"/><circle cx="392.7" cy="133.7" r="5.00" fill="#f00"/><circle cx="393.7" cy="133.8" r="5.00" fill="#f00"/><circle cx="394.7" cy="133.9" r="4.65"/><circle cx="396.5" cy="134.2" r="5.00" fill="#f00"/><circle cx="396.7" cy="134.2" r="5.00" fill="#f00"/><circle cx="397.7" cy="134.3" r="5.00" fill="#f00"/><circle cx="398.7" cy="134.4" r="5.00" fill="#f00"/><circle cx="399.7" cy="134.5" r="5.00" fill="#f00"/><circle cx="400.7" cy="134.6" r="5.00" fill="#f00"/><circle cx="401.7" cy="134.6" r="4.65"/><circle cx="403.6" cy="134.6" r="5.00" fill="#f00"/><circle cx="403.7" cy="134.6" r="5.00" fill="#f00"/><circle cx="404.7" cy="134.6" r="4.65"/><circle cx="406.6" cy="134.6" r="5.00" fill="#f00"/><circle cx="406.8" cy="134.6" r="5.00" fill="#f00"/><circle cx="407.8" cy="134.5" r="4.65"/><circle cx="409.6" cy="134.2" r="5.00" fill="#f00"/><circle cx="409.8" cy="134.1" r="5.00" fill="#f00"/><circle cx="410.7" cy="133.9" r="5.00" fill="#f00"/><circle cx="411.7" cy="133.7" r="5.00" fill="#f00"/><circle cx="412.7" cy="133.4" r="5.00" fill="#f00"/><circle cx="412.7" cy="133.4" r="5.00" fill="#f00"/><circle cx="413.3" cy="132.6" r="5.00" fill="#f00"/><circle cx="413.7" cy="131.6" r="5.00" fill="#f00"/><circle cx="414.4" cy="130.9" r="5.00" fill="#f00"/><circle cx="414.9" cy="130.0" r="5.00" fill="#f00"/><circle cx="416.2" cy="129.8" r="5.00" fill="#f00"/><circle cx="416.4" cy="128.7" r="5.00" fill="#f00"/><circle cx="417.9" cy="128.7" r="5.00" fill="#f00"/><circle cx="418.5" cy="128.0" r="4.65"/><circle cx="419.0" cy="126.5" r="5.00" fill="#f00"/><circle cx="418.8" cy="125.3" r="5.00" fill="#f00"/><circle cx="420.4" cy="125.6" r="5.00" fill="#f00"/><circle cx="421.3" cy="125.3" r="5.00" fill="#f00"/><circle cx="422.2" cy="124.9" r="5.00" fill="#f00"/><circle cx="422.5" cy="123.4" r="5.00" fill="#f00"/><circle cx="423.7" cy="123.6" r="5.00" fill="#f00"/><circle cx="424.5" cy="122.9" r="5.00" fill="#f00"/><circle cx="425.5" cy="122.6" r="5.00" fill="#f00"/><circle cx="427.0" cy="123.1" r="5.00" fill="#f00"/><circle cx="427.1" cy="121.5" r="5.00" fill="#f00"/><circle cx="428.2" cy="121.2" r="4.65"/><circle cx="429.3" cy="120.3" r="5.00" fill="#f00"/><circle cx="429.1" cy="119.3" r="5.00" fill="#f00"/><circle cx="429.9" cy="118.6" r="5.00" fill="#f00"/><circle cx="430.5" cy="117.8" r="5.00" fill="#f00"/><circle cx="431.0" cy="116.9" r="5.00" fill="#f00"/><circle cx="431.1" cy="115.5" r="5.00" fill="#f00"/><circle cx="432.4" cy="115.4" r="4.65"/><circle cx="433.6" cy="115.2" r="5.00" fill="#f00"/><circle cx="433.5" cy="113.4" r="5.00" fill="#f00"/><circle cx="435.1" cy="114.1" r="5.00" fill="#f00"/><circle cx="435.6" cy="113.1" r="5.00" fill="#f00"/><circle cx="435.9" cy="112.1" r="5.00" fill="#f00"/><circle cx="437.9" cy="112.6" r="5.00" fill="#f00"/><circle cx="438.0" cy="111.3" r="5.00" fill="#f00"/><circle cx="437.9" cy="109.7" r="5.00" fill="#f00"/><circle cx="439.2" cy="109.6" r="5.00" fill="#f00"/><circle cx="440.2" cy="109.3" r="5.00" fill="#f00"/><circle cx="440.8" cy="108.4" r="5.00" fill="#f00"/><circle cx="442.0" cy="108.4" r="5.00" fill="#f00"/><circle cx="442.6" cy="107.5" r="5.00" fill="#f00"/><circle cx="443.7" cy="107.3" r="5.00" fill="#f00"/><circle cx="444.9" cy="107.2" r="5.00" fill="#f00"/><circle cx="444.9" cy="105.6" r="5.00" fill="#f00"/><circle cx="446.1" cy="105.5" r="5.00" fill="#f00"/><circle cx="446.6" cy="104.6" r="5.00" fill="#f00"/><circle cx="447.7" cy="104.3" r="5.00" fill="#f00"/><circle cx="448.0" cy="103.1" r="5.00" fill="#f00"/><circle cx="449.1" cy="102.8" r="5.00" fill="#f00"/><circle cx="450.0" cy="102.4" r="5.00" fill="#f00"/><circle cx="451.3" cy="102.2" r="5.00" fill="#f00"/><circle cx="452.1" cy="101.6" r="5.00" fill="#f00"/><circle cx="451.7" cy="99.7" r="5.00" fill="#f00"/><circle cx="452.5" cy="99.1" r="5.00" fill="#f00"/><circle cx="453.7" cy="99.0" r="5.00" fill="#f00"/><circle cx="453.1" cy="96.9" r="4.65"/><circle cx="454.6" cy="96.4" r="5.00" fill="#f00"/><circle cx="455.1" cy="96.0" r="5.00" fill="#f00"/><circle cx="456.3" cy="95.9" r="5.00" fill="#f00"/><circle cx="456.7" cy="94.8" r="5.00" fill="#f00"/><circle cx="456.9" cy="93.6" r="5.00" fill="#f00"/><circle cx="457.7" cy="93.0" r="5.00" fill="#f00"/><circle cx="458.6" cy="92.4" r="5.00" fill="#f00"/><circle cx="460.2" cy="92.8" r="5.00" fill="#f00"/><circle cx="460.3" cy="91.3" r="5.00" fill="#f00"/><circle cx="461.3" cy="90.9" r="5.00" fill="#f00"/><circle cx="462.5" cy="90.8" r="5.00" fill="#f00"/><circle cx="463.2" cy="90.1" r="5.00" fill="#f00"/><circle cx="464.1" cy="89.5" r="5.00" fill="#f00"/><circle cx="464.5" cy="88.4" r="5.00" fill="#f00"/><circle cx="465.7" cy="88.2" r="5.00" fill="#f00"/><circle cx="466.1" cy="87.3" r="5.00" fill="#f00"/><circle cx="467.6" cy="87.0" r="5.00" fill="#f00"/><circle cx="467.8" cy="86.0" r="5.00" fill="#f00"/><circle cx="467.9" cy="84.9" r="5.00" fill="#f00"/><circle cx="468.8" cy="84.2" r="5.00" fill="#f00"/><circle cx="468.7" cy="82.9" r="5.00" fill="#f00"/><circle cx="470.0" cy="82.4" r="5.00" fill="#f00"/><circle cx="469.8" cy="81.2" r="5.00" fill="#f00"/><circle cx="470.5" cy="80.5" r="5.00" fill="#f00"/><circle cx="469.8" cy="79.0" r="5.00" fill="#f00"/><circle cx="471.2" cy="78.5" r="5.00" fill="#f00"/><circle cx="470.3" cy="77.1" r="5.00" fill="#f00"/><circle cx="470.4" cy="76.0" r="5.00" fill="#f00"/><circle cx="471.8" cy="75.5" r="5.00" fill="#f00"/><circle cx="471.8" cy="74.4" r="5.00" fill="#f00"/><circle cx="472.7" cy="73.8" r="5.00" fill="#f00"/><circle cx="474.3" cy="73.4" r="5.00" fill="#f00"/><circle cx="472.8" cy="71.6" r="5.00" fill="#f00"/><circle cx="473.3" cy="70.7" r="5.00" fill="#f00"/><circle cx="474.2" cy="70.0" r="5.00" fill="#f00"/><circle cx="474.8" cy="69.2" r="5.00" fill="#f00"/><circle cx="474.8" cy="68.1" r="5.00" fill="#f00"/><circle cx="475.3" cy="67.2" r="5.00" fill="#f00"/><circle cx="476.3" cy="66.7" r="5.00" fill="#f00"/><circle cx="476.7" cy="65.8" r="5.00" fill="#f00"/><circle cx="476.5" cy="64.3" r="5.00" fill="#f00"/><circle cx="477.5" cy="63.9" r="5.00" fill="#f00"/><circle cx="478.2" cy="63.1" r="5.00" fill="#f00"/><circle cx="478.3" cy="61.9" r="5.00" fill="#f00"/><circle cx="479.5" cy="61.6" r="5.00" fill="#f00"/><circle cx="479.6" cy="60.4" r="5.00" fill="#f00"/><circle cx="481.2" cy="60.3" r="5.00" fill="#f00"/><circle cx="481.4" cy="59.2" r="5.00" fill="#f00"/><circle cx="481.9" cy="58.4" r="5.00" fill="#f00"/><circle cx="482.2" cy="57.3" r="5.00" fill="#f00"/><circle cx="483.1" cy="56.7" r="5.00" fill="#f00"/><circle cx="482.8" cy="55.2" r="5.00" fill="#f00"/><circle cx="483.9" cy="54.8" r="5.00" fill="#f00"/><circle cx="485.2" cy="54.6" r="5.00" fill="#f00"/><circle cx="484.6" cy="52.8" r="5.00" fill="#f00"/><circle cx="486.8" cy="53.3" r="5.00" fill="#f00"/><circle cx="486.1" cy="51.4" r="5.00" fill="#f00"/><circle cx="488.0" cy="51.7" r="5.00" fill="#f00"/><circle cx="487.8" cy="50.3" r="5.00" fill="#f00"/><circle cx="489.2" cy="50.1" r="5.00" fill="#f00"/><circle cx="489.4" cy="49.1" r="5.00" fill="#f00"/><circle cx="489.1" cy="47.6" r="5.00" fill="#f00"/><circle cx="491.2" cy="47.8" r="5.00" fill="#f00"/><circle cx="491.8" cy="47.0" r="5.00" fill="#f00"/><circle cx="491.5" cy="45.7" r="5.00" fill="#f00"/><circle cx="491.8" cy="44.7" r="5.00" fill="#f00"/><circle cx="492.4" cy="43.9" r="5.00" fill="#f00"/><circle cx="492.5" cy="42.8" r="5.00" fill="#f00"/><circle cx="494.2" cy="42.7" r="5.00" fill="#f00"/><circle cx="494.0" cy="41.3" r="5.00" fill="#f00"/><circle cx="494.8" cy="40.7" r="5.00" fill="#f00"/><circle cx="495.3" cy="39.8" r="5.00" fill="#f00"/><circle cx="496.0" cy="39.1" r="5.00" fill="#f00"/><circle cx="496.7" cy="38.3" r="5.00" fill="#f00"/><circle cx="497.4" cy="37.6" r="5.00" fill="#f00"/><circle cx="497.4" cy="37.6" r="4.75" fill="#f00"/><circle cx="498.4" cy="37.9" r="4.75" fill="#f00"/><circle cx="499.3" cy="38.2" r="4.75" fill="#f00"/><circle cx="500.3" cy="38.5" r="4.75" fill="#f00"/><circle cx="501.3" cy="38.8" r="4.65"/><circle cx="502.8" cy="39.3" r="4.75" fill="#f00"/><circle cx="503.2" cy="39.4" r="4.65"/><circle cx="504.7" cy="39.9" r="4.75" fill="#f00"/><circle cx="505.1" cy="40.0" r="4.65"/><circle cx="506.7" cy="40.5" r="4.75" fill="#f00"/><circle cx="507.0" cy="40.7" r="4.75" fill="#f00"/><circle cx="508.0" cy="41.0" r="4.75" fill="#f00"/><circle cx="509.0" cy="41.3" r="4.75" fill="#f00"/><circle cx="509.9" cy="41.6" r="4.75" fill="#f00"/><circle cx="510.9" cy="41.9" r="4.75" fill="#f00"/><circle cx="511.8" cy="42.2" r="4.75" fill="#f00"/><circle cx="512.8" cy="42.5" r="4.75" fill="#f00"/><circle cx="513.8" cy="42.8" r="4.75" fill="#f00"/><circle cx="514.7" cy="43.1" r="4.65"/><circle cx="516.3" cy="43.6" r="4.75" fill="#f00"/><circle cx="516.7" cy="43.7" r="4.75" fill="#f00"/><circle cx="517.6" cy="44.0" r="4.75" fill="#f00"/><circle cx="518.6" cy="44.3" r="4.75" fill="#f00"/><circle cx="519.5" cy="44.6" r="4.75" fill="#f00"/><circle cx="520.5" cy="44.9" r="4.75" fill="#f00"/><circle cx="521.5" cy="45.2" r="4.75" fill="#f00"/><circle cx="522.4" cy="45.5" r="4.75" fill="#f00"/><circle cx="523.4" cy="45.9" r="4.75" fill="#f00"/><circle cx="524.4" cy="46.2" r="4.75" fill="#f00"/><circle cx="525.3" cy="46.5" r="4.75" fill="#f00"/><circle cx="526.3" cy="46.8" r="4.65"/><circle cx="527.9" cy="47.3" r="4.75" fill="#f00"/><circle cx="528.2" cy="47.4" r="4.75" fill="#f00"/><circle cx="529.2" cy="47.7" r="4.75" fill="#f00"/><circle cx="530.1" cy="48.0" r="4.75" fill="#f00"/><circle cx="531.1" cy="48.3" r="4.65"/><circle cx="531.1" cy="54.6" r="4.65"/><circle cx="531.1" cy="60.8" r="4.65"/><circle cx="531.0" cy="67.1" r="4.65"/><circle cx="531.0" cy="73.3" r="4.65"/><circle cx="531.0" cy="79.6" r="4.65"/><circle cx="531.0" cy="85.8" r="4.65"/><circle cx="530.9" cy="92.1" r="4.65"/><circle cx="530.9" cy="98.4" r="4.65"/><circle cx="530.9" cy="104.6" r="4.65"/><circle cx="530.9" cy="110.9" r="4.65"/><circle cx="530.8" cy="117.1" r="4.65"/><circle cx="530.8" cy="123.4" r="4.65"/><circle cx="530.8" cy="129.7" r="4.65"/><circle cx="530.8" cy="135.9" r="4.65"/><circle cx="530.7" cy="142.2" r="4.65"/><circle cx="530.7" cy="148.4" r="4.65"/><circle cx="530.7" cy="154.7" r="4.65"/><circle cx="530.6" cy="160.9" r="4.65"/><circle cx="530.6" cy="167.2" r="4.65"/><circle cx="530.6" cy="173.5" r="4.65"/><circle cx="530.6" cy="179.7" r="4.65"/><circle cx="530.6" cy="186.0" r="4.65"/><circle cx="530.5" cy="192.2" r="4.65"/><circle cx="530.5" cy="198.5" r="4.65"/><circle cx="530.5" cy="204.7" r="4.65"/><circle cx="530.5" cy="211.0" r="4.65"/><circle cx="530.4" cy="217.3" r="4.65"/><circle cx="530.4" cy="223.5" r="4.65"/><circle cx="530.4" cy="229.8" r="4.65"/><circle cx="530.4" cy="236.0" r="4.65"/><circle cx="530.3" cy="242.3" r="4.65"/><circle cx="530.3" cy="248.6" r="4.65"/><circle cx="530.3" cy="254.8" r="4.65"/><circle cx="530.2" cy="261.1" r="4.65"/><circle cx="530.2" cy="267.3" r="4.65"/><circle cx="530.2" cy="273.6" r="4.65"/><circle cx="530.2" cy="279.8" r="4.65"/><circle cx="530.1" cy="286.1" r="4.65"/><circle cx="530.1" cy="292.4" r="4.65"/><circle cx="530.1" cy="298.6" r="4.65"/><circle cx="530.1" cy="304.9" r="4.65"/><circle cx="530.0" cy="311.1" r="4.65"/><circle cx="530.0" cy="317.4" r="4.65"/><circle cx="530.0" cy="323.6" r="4.65"/><circle cx="530.0" cy="329.9" r="4.65"/><circle cx="530.0" cy="336.2" r="4.65"/><circle cx="529.9" cy="342.4" r="4.65"/><circle cx="529.9" cy="348.7" r="4.65"/><circle cx="529.9" cy="354.9" r="4.65"/><circle cx="529.9" cy="361.2" r="4.65"/><circle cx="529.8" cy="367.4" r="4.65"/><circle cx="529.8" cy="373.7" r="4.65"/><circle cx="529.8" cy="380.0" r="4.65"/><circle cx="529.8" cy="386.2" r="4.65"/><circle cx="529.7" cy="392.5" r="4.65"/><circle cx="529.7" cy="398.7" r="4.65"/><circle cx="529.7" cy="405.0" r="4.65"/><circle cx="529.6" cy="411.3" r="4.65"/><circle cx="529.6" cy="417.5" r="4.65"/><circle cx="529.6" cy="423.8" r="4.65"/><circle cx="529.6" cy="430.0" r="4.65"/><circle cx="529.5" cy="436.3" r="4.65"/><circle cx="529.5" cy="442.5" r="4.65"/><circle cx="529.5" cy="448.8" r="4.65"/></g></g>
<g stroke="#000" stroke-width="1.2"><path d="M115.5 31.4H160.9" fill="none"/><circle cx="139" cy="31.4" r="4.6" fill="#fff"/></g><g stroke="#f00" stroke-width="1.2"><path d="M115.5 56.2H160.9" fill="none"/><circle cx="139" cy="56.2" r="4.6" fill="#fff"/></g>
<g font-family="'Liberation Sans', Arial, Helvetica, sans-serif" fill="#000"><text transform="translate(95.5 495.2) scale(0.972 1)" text-anchor="middle" font-size="24.0">0</text><text transform="translate(174.1 495.2) scale(0.972 1)" text-anchor="middle" font-size="24.0">200</text><text transform="translate(252.7 495.2) scale(0.972 1)" text-anchor="middle" font-size="24.0">400</text><text transform="translate(331.2 495.2) scale(0.972 1)" text-anchor="middle" font-size="24.0">600</text><text transform="translate(409.8 495.2) scale(0.972 1)" text-anchor="middle" font-size="24.0">800</text><text transform="translate(488.3 495.2) scale(0.972 1)" text-anchor="middle" font-size="24.0">1000</text><text transform="translate(566.9 495.2) scale(0.972 1)" text-anchor="middle" font-size="24.0">1200</text><text transform="translate(83.3 456.8) scale(0.972 1)" text-anchor="end" font-size="24.0">0</text><text transform="translate(83.3 356.6) scale(0.972 1)" text-anchor="end" font-size="24.0">100</text><text transform="translate(83.3 256.5) scale(0.972 1)" text-anchor="end" font-size="24.0">200</text><text transform="translate(83.3 156.3) scale(0.972 1)" text-anchor="end" font-size="24.0">300</text><text transform="translate(83.3 56.2) scale(0.972 1)" text-anchor="end" font-size="24.0">400</text><text transform="translate(330.7 530.8) scale(1.030 1)" text-anchor="middle" font-size="25.5" font-weight="bold">Displacement Into Surface (nm)</text><text transform="translate(22.4 237.4) rotate(-90) scale(1.020 1)" text-anchor="middle" font-size="25.5" font-weight="bold">Load On Sample (<tspan font-weight="normal" font-size="26" font-family="'Liberation Serif', serif">µ</tspan>N)</text><text transform="translate(165.9 38.0) scale(1.055 1)" font-size="17.6">Lithium</text><text transform="translate(165.9 63.1) scale(1.055 1)" font-size="17.6">Indium</text></g>
</svg>
</body></html>
